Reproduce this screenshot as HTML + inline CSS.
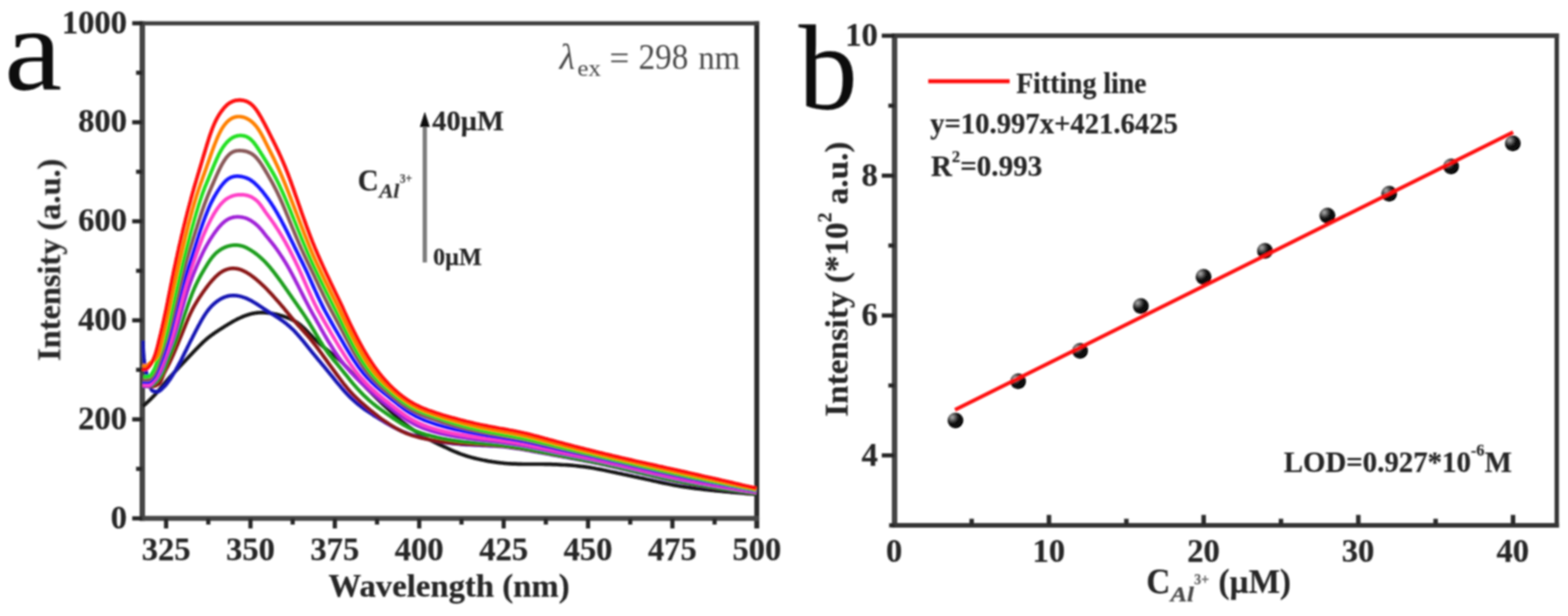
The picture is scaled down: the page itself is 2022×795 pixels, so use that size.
<!DOCTYPE html>
<html lang="en"><head><meta charset="utf-8"><title>Fluorescence spectra and linear fitting</title>
<style>
html,body{margin:0;padding:0;background:#fff;}
body{width:2022px;height:795px;overflow:hidden;font-family:"Liberation Serif",serif;}
svg{display:block;}
text{font-family:"Liberation Serif",serif;fill:#262626;}
.b,.tk{stroke:#262626;stroke-width:0.25px;stroke-linejoin:round;}
.b{font-weight:bold;}
.i{font-style:italic;}
.tk{font-weight:bold;font-size:42px;}
.c{fill:none;stroke-width:4.7;stroke-linejoin:round;stroke-linecap:butt;}
.ax{stroke:#363636;fill:none;}
</style></head><body>
<svg width="2022" height="795" viewBox="0 0 2022 795">
<defs><filter id="bl" x="0" y="0" width="2022" height="795" filterUnits="userSpaceOnUse"><feGaussianBlur stdDeviation="1.3"/></filter><clipPath id="clipA"><rect x="182.5" y="30.05" width="794.4" height="638.95"/></clipPath><radialGradient id="ball" cx="0.3" cy="0.3" r="0.8"><stop offset="0" stop-color="#b0b0b0"/><stop offset="0.24" stop-color="#626262"/><stop offset="0.47" stop-color="#141414"/><stop offset="1" stop-color="#000"/></radialGradient></defs>
<rect width="2022" height="795" fill="#fff"/>
<g filter="url(#bl)">
<g id="panel-a">
<g class="ax">
<line x1="183.5" y1="27.45" x2="183.5" y2="672.2" stroke="#444" stroke-width="7"/>
<line x1="975.9" y1="27.45" x2="975.9" y2="682.0" stroke="#2c2c2c" stroke-width="6.4"/>
<line x1="180.0" y1="30.05" x2="979.1" y2="30.05" stroke="#3c3c3c" stroke-width="5.2"/>
<line x1="180.0" y1="669.0" x2="979.1" y2="669.0" stroke="#464646" stroke-width="6.4"/>
<line x1="170.5" y1="669.0" x2="183.5" y2="669.0" stroke="#262626" stroke-width="5.4"/>
<line x1="175.5" y1="605.1" x2="183.5" y2="605.1" stroke="#262626" stroke-width="5.4"/>
<line x1="170.5" y1="541.2" x2="183.5" y2="541.2" stroke="#262626" stroke-width="5.4"/>
<line x1="175.5" y1="477.3" x2="183.5" y2="477.3" stroke="#262626" stroke-width="5.4"/>
<line x1="170.5" y1="413.4" x2="183.5" y2="413.4" stroke="#262626" stroke-width="5.4"/>
<line x1="175.5" y1="349.5" x2="183.5" y2="349.5" stroke="#262626" stroke-width="5.4"/>
<line x1="170.5" y1="285.6" x2="183.5" y2="285.6" stroke="#262626" stroke-width="5.4"/>
<line x1="175.5" y1="221.7" x2="183.5" y2="221.7" stroke="#262626" stroke-width="5.4"/>
<line x1="170.5" y1="157.8" x2="183.5" y2="157.8" stroke="#262626" stroke-width="5.4"/>
<line x1="175.5" y1="93.9" x2="183.5" y2="93.9" stroke="#262626" stroke-width="5.4"/>
<line x1="170.5" y1="30.0" x2="183.5" y2="30.0" stroke="#262626" stroke-width="5.4"/>
<line x1="214.2" y1="669.0" x2="214.2" y2="682.0" stroke="#262626" stroke-width="5.4"/>
<line x1="268.6" y1="669.0" x2="268.6" y2="677.0" stroke="#262626" stroke-width="5.4"/>
<line x1="323.0" y1="669.0" x2="323.0" y2="682.0" stroke="#262626" stroke-width="5.4"/>
<line x1="377.4" y1="669.0" x2="377.4" y2="677.0" stroke="#262626" stroke-width="5.4"/>
<line x1="431.8" y1="669.0" x2="431.8" y2="682.0" stroke="#262626" stroke-width="5.4"/>
<line x1="486.2" y1="669.0" x2="486.2" y2="677.0" stroke="#262626" stroke-width="5.4"/>
<line x1="540.6" y1="669.0" x2="540.6" y2="682.0" stroke="#262626" stroke-width="5.4"/>
<line x1="595.1" y1="669.0" x2="595.1" y2="677.0" stroke="#262626" stroke-width="5.4"/>
<line x1="649.5" y1="669.0" x2="649.5" y2="682.0" stroke="#262626" stroke-width="5.4"/>
<line x1="703.9" y1="669.0" x2="703.9" y2="677.0" stroke="#262626" stroke-width="5.4"/>
<line x1="758.3" y1="669.0" x2="758.3" y2="682.0" stroke="#262626" stroke-width="5.4"/>
<line x1="812.7" y1="669.0" x2="812.7" y2="677.0" stroke="#262626" stroke-width="5.4"/>
<line x1="867.1" y1="669.0" x2="867.1" y2="682.0" stroke="#262626" stroke-width="5.4"/>
<line x1="921.5" y1="669.0" x2="921.5" y2="677.0" stroke="#262626" stroke-width="5.4"/>
</g>
<g clip-path="url(#clipA)">
<path class="c" stroke="#161616" d="M184.3,524.2 L184.9,523.7 L185.6,523.1 L186.2,522.6 L186.8,522.0 L187.5,521.5 L188.1,520.9 L188.7,520.3 L189.3,519.7 L190.0,519.2 L190.6,518.6 L191.2,518.0 L191.9,517.4 L192.5,516.8 L193.1,516.2 L193.8,515.6 L194.4,515.0 L195.0,514.3 L195.7,513.7 L196.3,513.1 L196.9,512.4 L197.5,511.8 L198.2,511.1 L198.8,510.5 L199.4,509.8 L200.1,509.1 L200.7,508.5 L201.3,507.7 L202.0,507.0 L202.6,506.3 L203.2,505.6 L203.9,504.8 L204.5,504.1 L205.1,503.3 L205.7,502.6 L206.4,501.8 L207.0,501.0 L207.6,500.2 L208.3,499.5 L208.9,498.7 L209.5,497.9 L210.2,497.1 L210.8,496.4 L211.4,495.6 L212.1,494.8 L212.7,494.1 L213.3,493.3 L213.9,492.6 L214.6,491.8 L215.2,491.1 L215.8,490.4 L216.5,489.7 L217.1,489.0 L217.7,488.2 L218.4,487.5 L219.0,486.8 L219.6,486.2 L220.3,485.5 L220.9,484.8 L221.5,484.1 L222.2,483.4 L222.8,482.7 L223.4,482.0 L224.0,481.3 L224.7,480.7 L225.3,480.0 L225.9,479.3 L226.6,478.6 L227.2,477.9 L227.8,477.2 L228.5,476.6 L229.1,475.9 L229.7,475.2 L230.4,474.5 L231.0,473.8 L231.6,473.2 L232.2,472.5 L232.9,471.8 L233.5,471.1 L234.1,470.5 L234.8,469.8 L235.4,469.1 L236.0,468.5 L236.7,467.8 L237.3,467.1 L237.9,466.5 L238.6,465.8 L239.2,465.1 L239.8,464.5 L240.4,463.8 L241.1,463.1 L241.7,462.5 L242.3,461.8 L243.0,461.1 L243.6,460.5 L244.2,459.8 L244.9,459.1 L245.5,458.5 L246.1,457.8 L246.8,457.1 L247.4,456.5 L248.0,455.8 L248.6,455.2 L249.3,454.5 L249.9,453.8 L250.5,453.2 L251.2,452.5 L251.8,451.9 L252.4,451.2 L253.1,450.5 L253.7,449.9 L254.3,449.2 L255.0,448.6 L255.6,447.9 L256.2,447.3 L256.8,446.6 L257.5,446.0 L258.1,445.4 L258.7,444.7 L259.4,444.1 L260.0,443.5 L261.0,442.5 L262.0,441.5 L263.0,440.6 L264.0,439.7 L265.0,438.8 L266.0,437.9 L267.0,437.1 L268.0,436.2 L269.0,435.4 L270.0,434.7 L271.0,433.9 L272.0,433.1 L273.0,432.4 L274.0,431.7 L275.0,431.0 L276.0,430.3 L277.0,429.6 L278.0,428.9 L279.0,428.2 L280.0,427.5 L281.0,426.9 L282.0,426.2 L283.0,425.6 L284.0,424.9 L285.0,424.3 L286.0,423.7 L287.0,423.0 L288.0,422.4 L289.0,421.8 L290.0,421.1 L291.0,420.5 L292.0,419.9 L293.0,419.3 L294.0,418.7 L295.0,418.1 L296.0,417.5 L297.0,416.9 L298.0,416.3 L299.0,415.7 L300.0,415.1 L301.0,414.6 L302.0,414.0 L303.0,413.5 L304.0,413.0 L305.0,412.4 L306.0,411.9 L307.0,411.4 L308.0,411.0 L309.0,410.5 L310.0,410.0 L311.0,409.6 L312.0,409.2 L313.0,408.7 L314.0,408.3 L315.0,407.9 L316.0,407.5 L317.0,407.2 L318.0,406.8 L319.0,406.5 L320.0,406.2 L321.0,405.8 L322.0,405.6 L323.0,405.3 L324.0,405.0 L325.0,404.8 L326.0,404.6 L327.0,404.4 L328.0,404.2 L329.0,404.0 L330.0,403.9 L331.0,403.8 L332.0,403.7 L333.0,403.6 L334.0,403.5 L335.0,403.5 L336.0,403.4 L337.0,403.4 L338.0,403.4 L339.0,403.4 L340.0,403.5 L341.0,403.5 L342.0,403.6 L343.0,403.6 L344.0,403.7 L345.0,403.8 L346.0,403.9 L347.0,404.0 L348.0,404.2 L349.0,404.3 L350.0,404.5 L351.0,404.6 L352.0,404.8 L353.0,405.0 L354.0,405.2 L355.0,405.4 L356.0,405.6 L357.0,405.8 L358.0,406.1 L359.0,406.4 L360.0,406.6 L361.0,406.9 L362.0,407.2 L363.0,407.5 L364.0,407.8 L365.0,408.1 L366.0,408.4 L367.0,408.7 L368.0,409.1 L369.0,409.4 L370.0,409.8 L371.0,410.2 L372.0,410.6 L373.0,411.0 L374.0,411.4 L375.0,411.8 L376.0,412.3 L377.0,412.8 L378.0,413.3 L379.0,413.8 L380.0,414.3 L381.0,414.9 L382.0,415.5 L383.0,416.2 L384.0,416.8 L385.0,417.6 L386.0,418.3 L387.0,419.1 L388.0,419.9 L389.0,420.8 L390.0,421.7 L391.0,422.6 L392.0,423.5 L393.0,424.5 L394.0,425.5 L395.0,426.5 L396.0,427.5 L397.0,428.5 L398.0,429.6 L399.0,430.6 L400.0,431.6 L401.0,432.7 L402.0,433.7 L403.0,434.7 L404.0,435.8 L405.0,436.8 L406.0,437.7 L407.0,438.7 L408.0,439.7 L409.0,440.6 L410.0,441.6 L411.0,442.5 L412.0,443.4 L413.0,444.3 L414.0,445.1 L415.0,446.0 L416.0,446.8 L417.0,447.7 L418.0,448.5 L419.0,449.3 L420.0,450.1 L423.5,452.8 L427.0,455.6 L430.5,458.4 L434.0,461.4 L437.5,464.4 L441.0,467.7 L444.4,471.1 L447.9,474.7 L451.4,478.3 L454.9,482.1 L458.4,485.9 L461.9,489.6 L465.4,493.3 L468.9,496.9 L472.4,500.5 L475.9,504.1 L479.4,507.6 L482.9,511.1 L486.4,514.5 L489.8,517.9 L493.3,521.3 L496.8,524.6 L500.3,527.8 L503.8,531.0 L507.3,534.2 L510.8,537.3 L514.3,540.3 L517.8,543.2 L521.3,546.0 L524.8,548.8 L528.3,551.5 L531.8,554.0 L535.3,556.5 L538.7,558.8 L542.2,561.1 L545.7,563.1 L549.2,565.1 L552.7,567.0 L556.2,568.7 L559.7,570.4 L563.2,572.1 L566.7,573.8 L570.2,575.4 L573.7,577.0 L577.2,578.7 L580.7,580.3 L584.1,581.8 L587.6,583.3 L591.1,584.7 L594.6,586.1 L598.1,587.3 L601.6,588.4 L605.1,589.5 L608.6,590.5 L612.1,591.4 L615.6,592.2 L619.1,593.0 L622.6,593.8 L626.1,594.4 L629.5,595.1 L633.0,595.6 L636.5,596.2 L640.0,596.7 L643.5,597.1 L647.0,597.5 L650.5,597.9 L654.0,598.2 L657.5,598.4 L661.0,598.6 L664.5,598.7 L668.0,598.8 L671.5,598.9 L674.9,599.0 L678.4,599.0 L681.9,599.0 L685.4,599.0 L688.9,599.0 L692.4,599.0 L695.9,599.0 L699.4,599.0 L702.9,599.1 L706.4,599.1 L709.9,599.2 L713.4,599.3 L716.9,599.4 L720.4,599.6 L723.8,599.8 L727.3,600.0 L730.8,600.2 L734.3,600.4 L737.8,600.7 L741.3,601.0 L744.8,601.4 L748.3,601.8 L751.8,602.2 L755.3,602.7 L758.8,603.2 L762.3,603.7 L765.8,604.3 L769.2,605.0 L772.7,605.6 L776.2,606.3 L779.7,607.0 L783.2,607.7 L786.7,608.5 L790.2,609.2 L793.7,609.9 L797.2,610.7 L800.7,611.4 L804.2,612.2 L807.7,612.9 L811.2,613.7 L814.6,614.4 L818.1,615.2 L821.6,615.9 L825.1,616.7 L828.6,617.4 L832.1,618.2 L835.6,619.0 L839.1,619.8 L842.6,620.6 L846.1,621.3 L849.6,622.1 L853.1,622.9 L856.6,623.6 L860.0,624.3 L863.5,625.0 L867.0,625.7 L870.5,626.4 L874.0,627.0 L877.5,627.6 L881.0,628.1 L884.5,628.7 L888.0,629.2 L891.5,629.7 L895.0,630.1 L898.5,630.6 L902.0,631.0 L905.5,631.4 L908.9,631.8 L912.4,632.2 L915.9,632.6 L919.4,633.0 L922.9,633.3 L926.4,633.7 L929.9,634.0 L933.4,634.3 L936.9,634.7 L940.4,635.0 L943.9,635.3 L947.4,635.6 L950.9,635.9 L954.3,636.2 L957.8,636.5 L961.3,636.8 L964.8,637.1 L968.3,637.4 L971.8,637.7 L975.3,638.0"/>
<path class="c" stroke="#1414b4" d="M184.3,439.6 L184.8,452.0 L185.6,462.0 L186.8,472.0 L188.2,479.0 L190.0,485.0 L190.6,487.4 L191.2,489.8 L191.8,492.1 L192.3,494.3 L192.9,496.4 L193.5,498.3 L194.1,499.9 L194.7,501.4 L195.2,502.7 L195.8,503.6 L196.4,504.3 L197.0,504.6 L197.6,504.8 L198.2,504.9 L198.8,505.0 L199.3,505.1 L199.9,505.2 L200.5,505.3 L201.1,505.4 L201.7,505.5 L202.2,505.5 L202.8,505.5 L203.4,505.5 L204.0,505.4 L204.6,505.1 L205.2,504.8 L205.8,504.5 L206.3,504.1 L206.9,503.6 L207.5,503.1 L208.1,502.6 L208.7,502.0 L209.2,501.5 L209.8,500.9 L210.4,500.3 L211.0,499.8 L211.6,499.3 L212.2,498.7 L212.8,498.0 L213.3,497.4 L213.9,496.7 L214.5,496.0 L215.1,495.2 L215.7,494.5 L216.2,493.7 L216.8,492.9 L217.4,492.1 L218.0,491.3 L218.6,490.4 L219.2,489.6 L219.8,488.7 L220.3,487.9 L220.9,487.0 L221.5,486.0 L222.1,485.1 L222.7,484.2 L223.2,483.2 L223.8,482.3 L224.4,481.3 L225.0,480.4 L225.6,479.4 L226.2,478.4 L226.8,477.3 L227.3,476.3 L227.9,475.3 L228.5,474.2 L229.1,473.2 L229.7,472.1 L230.2,471.0 L230.8,469.9 L231.4,468.8 L232.0,467.7 L232.6,466.6 L233.2,465.4 L233.8,464.3 L234.3,463.1 L234.9,462.0 L235.5,460.8 L236.1,459.6 L236.7,458.5 L237.2,457.3 L237.8,456.1 L238.4,454.9 L239.0,453.7 L239.6,452.5 L240.2,451.4 L240.8,450.2 L241.3,449.0 L241.9,447.8 L242.5,446.7 L243.1,445.5 L243.7,444.3 L244.2,443.2 L244.8,442.0 L245.4,440.8 L246.0,439.7 L246.6,438.5 L247.2,437.4 L247.8,436.2 L248.3,435.1 L248.9,434.0 L249.5,432.8 L250.1,431.7 L250.7,430.5 L251.2,429.4 L251.8,428.3 L252.4,427.2 L253.0,426.0 L253.6,424.9 L254.2,423.8 L254.8,422.7 L255.3,421.6 L255.9,420.5 L256.5,419.4 L257.1,418.4 L257.7,417.3 L258.2,416.2 L258.8,415.2 L259.4,414.2 L260.0,413.1 L261.0,411.4 L262.0,409.7 L263.0,408.1 L264.0,406.5 L265.0,405.0 L266.0,403.5 L267.0,402.1 L268.0,400.8 L269.0,399.5 L270.0,398.3 L271.0,397.1 L272.0,396.0 L273.0,394.9 L274.0,393.9 L275.0,393.0 L276.0,392.1 L277.0,391.2 L278.0,390.4 L279.0,389.6 L280.0,388.8 L281.0,388.1 L282.0,387.4 L283.0,386.8 L284.0,386.2 L285.0,385.6 L286.0,385.1 L287.0,384.6 L288.0,384.1 L289.0,383.7 L290.0,383.3 L291.0,383.0 L292.0,382.6 L293.0,382.4 L294.0,382.1 L295.0,381.9 L296.0,381.7 L297.0,381.6 L298.0,381.5 L299.0,381.4 L300.0,381.3 L301.0,381.3 L302.0,381.3 L303.0,381.4 L304.0,381.5 L305.0,381.6 L306.0,381.7 L307.0,381.9 L308.0,382.0 L309.0,382.3 L310.0,382.5 L311.0,382.8 L312.0,383.0 L313.0,383.4 L314.0,383.7 L315.0,384.0 L316.0,384.4 L317.0,384.8 L318.0,385.2 L319.0,385.7 L320.0,386.2 L321.0,386.6 L322.0,387.1 L323.0,387.7 L324.0,388.2 L325.0,388.7 L326.0,389.3 L327.0,389.9 L328.0,390.5 L329.0,391.1 L330.0,391.7 L331.0,392.3 L332.0,393.0 L333.0,393.6 L334.0,394.3 L335.0,394.9 L336.0,395.6 L337.0,396.3 L338.0,396.9 L339.0,397.6 L340.0,398.3 L341.0,398.9 L342.0,399.6 L343.0,400.2 L344.0,400.9 L345.0,401.5 L346.0,402.2 L347.0,402.8 L348.0,403.4 L349.0,404.1 L350.0,404.7 L351.0,405.3 L352.0,406.0 L353.0,406.6 L354.0,407.2 L355.0,407.9 L356.0,408.5 L357.0,409.1 L358.0,409.8 L359.0,410.4 L360.0,411.1 L361.0,411.8 L362.0,412.5 L363.0,413.2 L364.0,413.9 L365.0,414.6 L366.0,415.3 L367.0,416.1 L368.0,416.9 L369.0,417.6 L370.0,418.5 L371.0,419.3 L372.0,420.1 L373.0,421.0 L374.0,421.9 L375.0,422.8 L376.0,423.8 L377.0,424.7 L378.0,425.7 L379.0,426.7 L380.0,427.7 L381.0,428.8 L382.0,429.9 L383.0,431.0 L384.0,432.1 L385.0,433.2 L386.0,434.4 L387.0,435.5 L388.0,436.7 L389.0,437.9 L390.0,439.1 L391.0,440.3 L392.0,441.5 L393.0,442.8 L394.0,444.0 L395.0,445.2 L396.0,446.5 L397.0,447.7 L398.0,449.0 L399.0,450.2 L400.0,451.5 L401.0,452.7 L402.0,454.0 L403.0,455.2 L404.0,456.4 L405.0,457.6 L406.0,458.9 L407.0,460.1 L408.0,461.3 L409.0,462.5 L410.0,463.7 L411.0,464.9 L412.0,466.1 L413.0,467.3 L414.0,468.5 L415.0,469.7 L416.0,470.9 L417.0,472.1 L418.0,473.3 L419.0,474.5 L420.0,475.7 L423.5,480.0 L427.0,484.3 L430.5,488.6 L434.0,492.9 L437.5,497.1 L441.0,501.2 L444.4,505.1 L447.9,508.9 L451.4,512.5 L454.9,515.8 L458.4,518.9 L461.9,521.9 L465.4,524.7 L468.9,527.3 L472.4,529.8 L475.9,532.1 L479.4,534.4 L482.9,536.7 L486.4,538.8 L489.8,541.0 L493.3,543.1 L496.8,545.2 L500.3,547.2 L503.8,549.2 L507.3,551.2 L510.8,553.0 L514.3,554.7 L517.8,556.3 L521.3,557.8 L524.8,559.1 L528.3,560.4 L531.8,561.5 L535.3,562.6 L538.7,563.6 L542.2,564.5 L545.7,565.4 L549.2,566.2 L552.7,567.0 L556.2,567.8 L559.7,568.5 L563.2,569.1 L566.7,569.8 L570.2,570.4 L573.7,570.9 L577.2,571.4 L580.7,571.9 L584.1,572.3 L587.6,572.7 L591.1,573.0 L594.6,573.3 L598.1,573.6 L601.6,573.8 L605.1,574.0 L608.6,574.2 L612.1,574.3 L615.6,574.5 L619.1,574.6 L622.6,574.8 L626.1,574.9 L629.5,575.1 L633.0,575.3 L636.5,575.4 L640.0,575.7 L643.5,575.9 L647.0,576.2 L650.5,576.5 L654.0,576.9 L657.5,577.3 L661.0,577.8 L664.5,578.3 L668.0,578.8 L671.5,579.4 L674.9,580.0 L678.4,580.6 L681.9,581.3 L685.4,581.9 L688.9,582.6 L692.4,583.2 L695.9,583.9 L699.4,584.5 L702.9,585.2 L706.4,585.8 L709.9,586.5 L713.4,587.1 L716.9,587.7 L720.4,588.4 L723.8,589.0 L727.3,589.7 L730.8,590.3 L734.3,590.9 L737.8,591.6 L741.3,592.2 L744.8,592.9 L748.3,593.5 L751.8,594.2 L755.3,594.9 L758.8,595.5 L762.3,596.2 L765.8,596.9 L769.2,597.6 L772.7,598.3 L776.2,599.1 L779.7,599.8 L783.2,600.6 L786.7,601.4 L790.2,602.2 L793.7,603.0 L797.2,603.8 L800.7,604.6 L804.2,605.4 L807.7,606.3 L811.2,607.1 L814.6,607.9 L818.1,608.8 L821.6,609.6 L825.1,610.5 L828.6,611.3 L832.1,612.2 L835.6,613.0 L839.1,613.8 L842.6,614.7 L846.1,615.5 L849.6,616.3 L853.1,617.1 L856.6,617.9 L860.0,618.6 L863.5,619.4 L867.0,620.2 L870.5,620.9 L874.0,621.6 L877.5,622.3 L881.0,623.0 L884.5,623.6 L888.0,624.3 L891.5,624.9 L895.0,625.5 L898.5,626.1 L902.0,626.7 L905.5,627.3 L908.9,627.8 L912.4,628.4 L915.9,628.9 L919.4,629.5 L922.9,630.0 L926.4,630.5 L929.9,631.0 L933.4,631.5 L936.9,632.0 L940.4,632.4 L943.9,632.9 L947.4,633.4 L950.9,633.8 L954.3,634.3 L957.8,634.8 L961.3,635.2 L964.8,635.7 L968.3,636.1 L971.8,636.6 L975.3,637.0"/>
<path class="c" stroke="#8a1818" d="M184.0,497.0 L184.6,497.3 L185.3,497.5 L185.9,497.8 L186.5,498.0 L187.2,498.2 L187.8,498.3 L188.4,498.5 L189.1,498.6 L189.7,498.7 L190.3,498.8 L191.0,498.8 L191.6,498.9 L192.2,498.9 L192.9,499.0 L193.5,499.0 L194.1,499.0 L194.8,499.0 L195.4,499.0 L196.0,499.0 L196.7,498.9 L197.3,498.8 L197.9,498.6 L198.6,498.4 L199.2,498.2 L199.8,498.0 L200.5,497.8 L201.1,497.5 L201.7,497.2 L202.4,496.9 L203.0,496.5 L203.6,496.1 L204.3,495.8 L204.9,495.4 L205.5,494.7 L206.2,493.9 L206.8,492.8 L207.4,491.6 L208.1,490.2 L208.7,488.8 L209.3,487.3 L210.0,485.7 L210.6,484.2 L211.2,482.7 L211.9,481.3 L212.5,480.0 L213.1,478.8 L213.8,477.5 L214.4,476.3 L215.0,475.1 L215.7,473.9 L216.3,472.6 L216.9,471.4 L217.6,470.1 L218.2,468.9 L218.8,467.6 L219.5,466.3 L220.1,465.0 L220.7,463.6 L221.4,462.3 L222.0,460.9 L222.6,459.5 L223.3,458.0 L223.9,456.6 L224.5,455.1 L225.2,453.7 L225.8,452.2 L226.4,450.7 L227.1,449.2 L227.7,447.7 L228.3,446.2 L229.0,444.7 L229.6,443.2 L230.2,441.6 L230.9,440.1 L231.5,438.5 L232.1,437.0 L232.8,435.4 L233.4,433.9 L234.0,432.3 L234.7,430.7 L235.3,429.1 L235.9,427.5 L236.6,426.0 L237.2,424.4 L237.8,422.8 L238.5,421.2 L239.1,419.6 L239.7,418.1 L240.4,416.5 L241.0,415.0 L241.6,413.5 L242.3,412.0 L242.9,410.5 L243.5,409.0 L244.2,407.6 L244.8,406.2 L245.4,404.8 L246.1,403.5 L246.7,402.2 L247.3,400.9 L248.0,399.6 L248.6,398.4 L249.2,397.2 L249.9,396.1 L250.5,394.9 L251.1,393.8 L251.8,392.7 L252.4,391.7 L253.0,390.6 L253.7,389.6 L254.3,388.5 L254.9,387.5 L255.6,386.5 L256.2,385.5 L256.8,384.5 L257.5,383.6 L258.1,382.6 L258.7,381.6 L259.4,380.7 L260.0,379.7 L261.0,378.3 L262.0,376.8 L263.0,375.4 L264.0,374.0 L265.0,372.7 L266.0,371.3 L267.0,370.0 L268.0,368.7 L269.0,367.4 L270.0,366.1 L271.0,364.9 L272.0,363.7 L273.0,362.6 L274.0,361.4 L275.0,360.3 L276.0,359.3 L277.0,358.2 L278.0,357.2 L279.0,356.3 L280.0,355.4 L281.0,354.5 L282.0,353.6 L283.0,352.8 L284.0,352.1 L285.0,351.4 L286.0,350.8 L287.0,350.2 L288.0,349.6 L289.0,349.1 L290.0,348.6 L291.0,348.2 L292.0,347.9 L293.0,347.5 L294.0,347.3 L295.0,347.0 L296.0,346.8 L297.0,346.6 L298.0,346.5 L299.0,346.4 L300.0,346.4 L301.0,346.4 L302.0,346.4 L303.0,346.5 L304.0,346.6 L305.0,346.7 L306.0,346.9 L307.0,347.1 L308.0,347.3 L309.0,347.6 L310.0,348.0 L311.0,348.3 L312.0,348.7 L313.0,349.1 L314.0,349.6 L315.0,350.1 L316.0,350.6 L317.0,351.1 L318.0,351.7 L319.0,352.3 L320.0,352.9 L321.0,353.5 L322.0,354.2 L323.0,354.9 L324.0,355.6 L325.0,356.3 L326.0,357.1 L327.0,357.8 L328.0,358.6 L329.0,359.4 L330.0,360.2 L331.0,361.1 L332.0,361.9 L333.0,362.8 L334.0,363.7 L335.0,364.6 L336.0,365.5 L337.0,366.4 L338.0,367.3 L339.0,368.3 L340.0,369.2 L341.0,370.2 L342.0,371.2 L343.0,372.2 L344.0,373.2 L345.0,374.2 L346.0,375.3 L347.0,376.3 L348.0,377.4 L349.0,378.5 L350.0,379.5 L351.0,380.6 L352.0,381.7 L353.0,382.9 L354.0,384.0 L355.0,385.1 L356.0,386.2 L357.0,387.4 L358.0,388.5 L359.0,389.6 L360.0,390.8 L361.0,391.9 L362.0,393.1 L363.0,394.3 L364.0,395.4 L365.0,396.6 L366.0,397.8 L367.0,399.0 L368.0,400.2 L369.0,401.4 L370.0,402.6 L371.0,403.9 L372.0,405.1 L373.0,406.3 L374.0,407.5 L375.0,408.7 L376.0,409.9 L377.0,411.1 L378.0,412.3 L379.0,413.5 L380.0,414.6 L381.0,415.8 L382.0,416.9 L383.0,418.1 L384.0,419.2 L385.0,420.3 L386.0,421.4 L387.0,422.5 L388.0,423.6 L389.0,424.7 L390.0,425.9 L391.0,427.0 L392.0,428.1 L393.0,429.2 L394.0,430.3 L395.0,431.5 L396.0,432.6 L397.0,433.8 L398.0,434.9 L399.0,436.1 L400.0,437.3 L401.0,438.5 L402.0,439.7 L403.0,441.0 L404.0,442.2 L405.0,443.5 L406.0,444.8 L407.0,446.1 L408.0,447.4 L409.0,448.7 L410.0,450.0 L411.0,451.4 L412.0,452.7 L413.0,454.1 L414.0,455.4 L415.0,456.8 L416.0,458.2 L417.0,459.6 L418.0,461.0 L419.0,462.3 L420.0,463.7 L423.5,468.6 L427.0,473.4 L430.5,478.2 L434.0,483.0 L437.5,487.7 L441.0,492.3 L444.4,496.8 L447.9,501.1 L451.4,505.1 L454.9,508.9 L458.4,512.4 L461.9,515.8 L465.4,519.0 L468.9,522.1 L472.4,525.1 L475.9,528.1 L479.4,530.9 L482.9,533.7 L486.4,536.4 L489.8,539.1 L493.3,541.6 L496.8,544.0 L500.3,546.3 L503.8,548.6 L507.3,550.7 L510.8,552.7 L514.3,554.6 L517.8,556.3 L521.3,558.0 L524.8,559.5 L528.3,560.8 L531.8,562.0 L535.3,563.1 L538.7,564.0 L542.2,564.9 L545.7,565.7 L549.2,566.4 L552.7,567.1 L556.2,567.8 L559.7,568.4 L563.2,569.0 L566.7,569.6 L570.2,570.1 L573.7,570.6 L577.2,571.1 L580.7,571.5 L584.1,571.9 L587.6,572.2 L591.1,572.5 L594.6,572.8 L598.1,573.0 L601.6,573.2 L605.1,573.4 L608.6,573.6 L612.1,573.7 L615.6,573.8 L619.1,574.0 L622.6,574.1 L626.1,574.3 L629.5,574.5 L633.0,574.6 L636.5,574.9 L640.0,575.1 L643.5,575.4 L647.0,575.7 L650.5,576.0 L654.0,576.4 L657.5,576.8 L661.0,577.3 L664.5,577.8 L668.0,578.3 L671.5,578.9 L674.9,579.5 L678.4,580.1 L681.9,580.7 L685.4,581.3 L688.9,582.0 L692.4,582.7 L695.9,583.3 L699.4,584.0 L702.9,584.7 L706.4,585.3 L709.9,586.0 L713.4,586.6 L716.9,587.3 L720.4,587.9 L723.8,588.6 L727.3,589.2 L730.8,589.8 L734.3,590.5 L737.8,591.1 L741.3,591.8 L744.8,592.4 L748.3,593.1 L751.8,593.7 L755.3,594.4 L758.8,595.1 L762.3,595.7 L765.8,596.4 L769.2,597.1 L772.7,597.9 L776.2,598.6 L779.7,599.3 L783.2,600.1 L786.7,600.9 L790.2,601.6 L793.7,602.4 L797.2,603.3 L800.7,604.1 L804.2,604.9 L807.7,605.7 L811.2,606.6 L814.6,607.4 L818.1,608.2 L821.6,609.1 L825.1,609.9 L828.6,610.8 L832.1,611.6 L835.6,612.5 L839.1,613.3 L842.6,614.1 L846.1,614.9 L849.6,615.8 L853.1,616.6 L856.6,617.3 L860.0,618.1 L863.5,618.9 L867.0,619.6 L870.5,620.4 L874.0,621.1 L877.5,621.8 L881.0,622.5 L884.5,623.2 L888.0,623.8 L891.5,624.5 L895.0,625.1 L898.5,625.7 L902.0,626.3 L905.5,626.9 L908.9,627.5 L912.4,628.0 L915.9,628.6 L919.4,629.1 L922.9,629.7 L926.4,630.2 L929.9,630.7 L933.4,631.2 L936.9,631.7 L940.4,632.2 L943.9,632.7 L947.4,633.2 L950.9,633.7 L954.3,634.2 L957.8,634.7 L961.3,635.1 L964.8,635.6 L968.3,636.1 L971.8,636.5 L975.3,637.0"/>
<path class="c" stroke="#1c9e1c" d="M184.0,497.5 L184.6,497.7 L185.3,497.9 L185.9,498.1 L186.5,498.2 L187.2,498.3 L187.8,498.4 L188.4,498.4 L189.1,498.5 L189.7,498.5 L190.3,498.5 L191.0,498.5 L191.6,498.5 L192.2,498.5 L192.9,498.4 L193.5,498.3 L194.1,498.0 L194.8,497.7 L195.4,497.4 L196.0,497.0 L196.7,496.6 L197.3,496.1 L197.9,495.6 L198.6,495.1 L199.2,494.6 L199.8,494.1 L200.5,493.6 L201.1,493.1 L201.7,492.4 L202.4,491.8 L203.0,491.1 L203.6,490.3 L204.3,489.5 L204.9,488.6 L205.5,487.8 L206.2,486.8 L206.8,485.9 L207.4,484.9 L208.1,483.9 L208.7,482.8 L209.3,481.6 L210.0,480.3 L210.6,479.0 L211.2,477.5 L211.9,476.0 L212.5,474.5 L213.1,472.9 L213.8,471.2 L214.4,469.6 L215.0,467.9 L215.7,466.3 L216.3,464.7 L216.9,463.1 L217.6,461.6 L218.2,460.0 L218.8,458.6 L219.5,457.1 L220.1,455.6 L220.7,454.1 L221.4,452.6 L222.0,451.1 L222.6,449.6 L223.3,448.0 L223.9,446.4 L224.5,444.8 L225.2,443.2 L225.8,441.5 L226.4,439.8 L227.1,438.1 L227.7,436.4 L228.3,434.7 L229.0,432.9 L229.6,431.2 L230.2,429.4 L230.9,427.6 L231.5,425.8 L232.1,423.9 L232.8,422.0 L233.4,420.2 L234.0,418.3 L234.7,416.4 L235.3,414.4 L235.9,412.5 L236.6,410.6 L237.2,408.7 L237.8,406.8 L238.5,404.9 L239.1,403.0 L239.7,401.1 L240.4,399.3 L241.0,397.4 L241.6,395.6 L242.3,393.8 L242.9,392.0 L243.5,390.3 L244.2,388.5 L244.8,386.8 L245.4,385.1 L246.1,383.4 L246.7,381.8 L247.3,380.1 L248.0,378.5 L248.6,377.0 L249.2,375.4 L249.9,373.9 L250.5,372.5 L251.1,371.0 L251.8,369.6 L252.4,368.2 L253.0,366.8 L253.7,365.5 L254.3,364.2 L254.9,362.9 L255.6,361.7 L256.2,360.5 L256.8,359.2 L257.5,358.1 L258.1,356.9 L258.7,355.7 L259.4,354.6 L260.0,353.5 L261.0,351.7 L262.0,350.0 L263.0,348.3 L264.0,346.6 L265.0,344.9 L266.0,343.3 L267.0,341.7 L268.0,340.1 L269.0,338.5 L270.0,337.0 L271.0,335.6 L272.0,334.2 L273.0,332.9 L274.0,331.6 L275.0,330.4 L276.0,329.3 L277.0,328.2 L278.0,327.2 L279.0,326.3 L280.0,325.4 L281.0,324.6 L282.0,323.9 L283.0,323.1 L284.0,322.5 L285.0,321.8 L286.0,321.2 L287.0,320.7 L288.0,320.1 L289.0,319.7 L290.0,319.2 L291.0,318.8 L292.0,318.4 L293.0,318.1 L294.0,317.8 L295.0,317.5 L296.0,317.2 L297.0,317.0 L298.0,316.8 L299.0,316.7 L300.0,316.5 L301.0,316.4 L302.0,316.4 L303.0,316.3 L304.0,316.3 L305.0,316.4 L306.0,316.4 L307.0,316.5 L308.0,316.7 L309.0,316.8 L310.0,317.0 L311.0,317.2 L312.0,317.5 L313.0,317.8 L314.0,318.1 L315.0,318.5 L316.0,318.9 L317.0,319.4 L318.0,319.8 L319.0,320.4 L320.0,320.9 L321.0,321.5 L322.0,322.0 L323.0,322.7 L324.0,323.3 L325.0,323.9 L326.0,324.6 L327.0,325.3 L328.0,326.0 L329.0,326.7 L330.0,327.5 L331.0,328.2 L332.0,329.0 L333.0,329.8 L334.0,330.7 L335.0,331.5 L336.0,332.4 L337.0,333.3 L338.0,334.3 L339.0,335.2 L340.0,336.2 L341.0,337.2 L342.0,338.2 L343.0,339.2 L344.0,340.3 L345.0,341.4 L346.0,342.5 L347.0,343.7 L348.0,344.8 L349.0,346.0 L350.0,347.3 L351.0,348.5 L352.0,349.8 L353.0,351.1 L354.0,352.3 L355.0,353.7 L356.0,355.0 L357.0,356.3 L358.0,357.7 L359.0,359.0 L360.0,360.4 L361.0,361.8 L362.0,363.1 L363.0,364.5 L364.0,365.9 L365.0,367.4 L366.0,368.8 L367.0,370.2 L368.0,371.6 L369.0,373.1 L370.0,374.5 L371.0,375.9 L372.0,377.4 L373.0,378.8 L374.0,380.2 L375.0,381.7 L376.0,383.1 L377.0,384.6 L378.0,386.0 L379.0,387.4 L380.0,388.9 L381.0,390.3 L382.0,391.7 L383.0,393.2 L384.0,394.6 L385.0,396.1 L386.0,397.5 L387.0,398.9 L388.0,400.4 L389.0,401.9 L390.0,403.3 L391.0,404.8 L392.0,406.3 L393.0,407.8 L394.0,409.3 L395.0,410.8 L396.0,412.4 L397.0,413.9 L398.0,415.5 L399.0,417.1 L400.0,418.7 L401.0,420.4 L402.0,422.0 L403.0,423.7 L404.0,425.3 L405.0,427.0 L406.0,428.7 L407.0,430.4 L408.0,432.1 L409.0,433.8 L410.0,435.4 L411.0,437.1 L412.0,438.8 L413.0,440.4 L414.0,442.0 L415.0,443.6 L416.0,445.2 L417.0,446.7 L418.0,448.2 L419.0,449.7 L420.0,451.2 L423.5,456.0 L427.0,460.6 L430.5,464.9 L434.0,469.1 L437.5,473.3 L441.0,477.5 L444.4,481.8 L447.9,486.1 L451.4,490.4 L454.9,494.7 L458.4,498.8 L461.9,502.7 L465.4,506.4 L468.9,510.0 L472.4,513.3 L475.9,516.5 L479.4,519.5 L482.9,522.3 L486.4,525.1 L489.8,527.7 L493.3,530.2 L496.8,532.7 L500.3,535.2 L503.8,537.6 L507.3,540.0 L510.8,542.3 L514.3,544.6 L517.8,546.8 L521.3,548.9 L524.8,550.8 L528.3,552.6 L531.8,554.3 L535.3,555.8 L538.7,557.2 L542.2,558.4 L545.7,559.6 L549.2,560.7 L552.7,561.6 L556.2,562.6 L559.7,563.4 L563.2,564.3 L566.7,565.0 L570.2,565.8 L573.7,566.4 L577.2,567.1 L580.7,567.6 L584.1,568.2 L587.6,568.7 L591.1,569.1 L594.6,569.6 L598.1,570.0 L601.6,570.3 L605.1,570.7 L608.6,571.0 L612.1,571.3 L615.6,571.6 L619.1,571.9 L622.6,572.2 L626.1,572.5 L629.5,572.8 L633.0,573.1 L636.5,573.4 L640.0,573.8 L643.5,574.1 L647.0,574.5 L650.5,574.9 L654.0,575.3 L657.5,575.8 L661.0,576.2 L664.5,576.8 L668.0,577.3 L671.5,577.9 L674.9,578.4 L678.4,579.1 L681.9,579.7 L685.4,580.3 L688.9,581.0 L692.4,581.7 L695.9,582.4 L699.4,583.1 L702.9,583.8 L706.4,584.4 L709.9,585.1 L713.4,585.8 L716.9,586.5 L720.4,587.1 L723.8,587.8 L727.3,588.4 L730.8,589.1 L734.3,589.8 L737.8,590.4 L741.3,591.1 L744.8,591.7 L748.3,592.4 L751.8,593.1 L755.3,593.7 L758.8,594.4 L762.3,595.1 L765.8,595.8 L769.2,596.5 L772.7,597.2 L776.2,597.9 L779.7,598.7 L783.2,599.4 L786.7,600.2 L790.2,601.0 L793.7,601.8 L797.2,602.6 L800.7,603.5 L804.2,604.3 L807.7,605.1 L811.2,606.0 L814.6,606.8 L818.1,607.7 L821.6,608.5 L825.1,609.4 L828.6,610.2 L832.1,611.0 L835.6,611.9 L839.1,612.7 L842.6,613.5 L846.1,614.3 L849.6,615.1 L853.1,615.9 L856.6,616.7 L860.0,617.5 L863.5,618.2 L867.0,619.0 L870.5,619.7 L874.0,620.4 L877.5,621.1 L881.0,621.8 L884.5,622.4 L888.0,623.1 L891.5,623.7 L895.0,624.4 L898.5,625.0 L902.0,625.6 L905.5,626.2 L908.9,626.8 L912.4,627.4 L915.9,627.9 L919.4,628.5 L922.9,629.0 L926.4,629.6 L929.9,630.1 L933.4,630.6 L936.9,631.2 L940.4,631.7 L943.9,632.2 L947.4,632.7 L950.9,633.2 L954.3,633.7 L957.8,634.2 L961.3,634.7 L964.8,635.2 L968.3,635.7 L971.8,636.2 L975.3,636.7"/>
<path class="c" stroke="#a020d8" d="M184.0,498.0 L184.6,498.1 L185.3,498.2 L185.9,498.3 L186.5,498.4 L187.2,498.4 L187.8,498.5 L188.4,498.5 L189.1,498.5 L189.7,498.5 L190.3,498.5 L191.0,498.5 L191.6,498.4 L192.2,498.3 L192.9,498.0 L193.5,497.6 L194.1,497.1 L194.8,496.5 L195.4,495.9 L196.0,495.3 L196.7,494.6 L197.3,493.9 L197.9,493.2 L198.6,492.5 L199.2,491.8 L199.8,491.1 L200.5,490.3 L201.1,489.5 L201.7,488.7 L202.4,487.8 L203.0,486.8 L203.6,485.9 L204.3,484.9 L204.9,483.8 L205.5,482.7 L206.2,481.6 L206.8,480.4 L207.4,479.1 L208.1,477.8 L208.7,476.3 L209.3,474.7 L210.0,473.1 L210.6,471.4 L211.2,469.6 L211.9,467.9 L212.5,466.1 L213.1,464.3 L213.8,462.5 L214.4,460.8 L215.0,459.2 L215.7,457.5 L216.3,455.9 L216.9,454.3 L217.6,452.8 L218.2,451.1 L218.8,449.5 L219.5,447.9 L220.1,446.2 L220.7,444.5 L221.4,442.8 L222.0,441.0 L222.6,439.2 L223.3,437.3 L223.9,435.4 L224.5,433.5 L225.2,431.5 L225.8,429.5 L226.4,427.5 L227.1,425.5 L227.7,423.4 L228.3,421.4 L229.0,419.3 L229.6,417.2 L230.2,415.1 L230.9,412.9 L231.5,410.7 L232.1,408.6 L232.8,406.4 L233.4,404.2 L234.0,401.9 L234.7,399.7 L235.3,397.5 L235.9,395.2 L236.6,393.0 L237.2,390.7 L237.8,388.5 L238.5,386.3 L239.1,384.1 L239.7,382.0 L240.4,379.8 L241.0,377.7 L241.6,375.7 L242.3,373.7 L242.9,371.7 L243.5,369.8 L244.2,368.0 L244.8,366.1 L245.4,364.4 L246.1,362.6 L246.7,360.9 L247.3,359.2 L248.0,357.6 L248.6,355.9 L249.2,354.3 L249.9,352.8 L250.5,351.2 L251.1,349.7 L251.8,348.1 L252.4,346.6 L253.0,345.1 L253.7,343.6 L254.3,342.2 L254.9,340.7 L255.6,339.2 L256.2,337.8 L256.8,336.4 L257.5,334.9 L258.1,333.5 L258.7,332.1 L259.4,330.8 L260.0,329.4 L261.0,327.3 L262.0,325.3 L263.0,323.3 L264.0,321.3 L265.0,319.5 L266.0,317.6 L267.0,315.9 L268.0,314.1 L269.0,312.4 L270.0,310.7 L271.0,309.1 L272.0,307.5 L273.0,306.0 L274.0,304.4 L275.0,303.0 L276.0,301.5 L277.0,300.1 L278.0,298.7 L279.0,297.4 L280.0,296.1 L281.0,294.8 L282.0,293.6 L283.0,292.4 L284.0,291.3 L285.0,290.2 L286.0,289.2 L287.0,288.2 L288.0,287.3 L289.0,286.4 L290.0,285.6 L291.0,284.9 L292.0,284.2 L293.0,283.5 L294.0,283.0 L295.0,282.4 L296.0,282.0 L297.0,281.6 L298.0,281.2 L299.0,280.9 L300.0,280.6 L301.0,280.4 L302.0,280.2 L303.0,280.1 L304.0,280.0 L305.0,279.9 L306.0,279.9 L307.0,279.9 L308.0,279.9 L309.0,280.0 L310.0,280.1 L311.0,280.2 L312.0,280.3 L313.0,280.5 L314.0,280.7 L315.0,281.0 L316.0,281.2 L317.0,281.6 L318.0,281.9 L319.0,282.4 L320.0,282.8 L321.0,283.3 L322.0,283.9 L323.0,284.4 L324.0,285.1 L325.0,285.7 L326.0,286.4 L327.0,287.1 L328.0,287.8 L329.0,288.6 L330.0,289.4 L331.0,290.3 L332.0,291.2 L333.0,292.2 L334.0,293.2 L335.0,294.3 L336.0,295.4 L337.0,296.6 L338.0,297.8 L339.0,299.0 L340.0,300.3 L341.0,301.6 L342.0,302.9 L343.0,304.1 L344.0,305.4 L345.0,306.6 L346.0,307.8 L347.0,309.0 L348.0,310.2 L349.0,311.5 L350.0,312.7 L351.0,313.9 L352.0,315.2 L353.0,316.5 L354.0,317.8 L355.0,319.1 L356.0,320.5 L357.0,321.9 L358.0,323.3 L359.0,324.8 L360.0,326.2 L361.0,327.7 L362.0,329.2 L363.0,330.7 L364.0,332.3 L365.0,333.8 L366.0,335.4 L367.0,337.0 L368.0,338.6 L369.0,340.3 L370.0,341.9 L371.0,343.7 L372.0,345.4 L373.0,347.2 L374.0,349.0 L375.0,350.8 L376.0,352.6 L377.0,354.5 L378.0,356.4 L379.0,358.3 L380.0,360.2 L381.0,362.2 L382.0,364.1 L383.0,366.1 L384.0,368.0 L385.0,370.0 L386.0,372.0 L387.0,374.0 L388.0,376.0 L389.0,377.9 L390.0,379.9 L391.0,381.9 L392.0,383.9 L393.0,385.8 L394.0,387.8 L395.0,389.7 L396.0,391.6 L397.0,393.5 L398.0,395.4 L399.0,397.3 L400.0,399.1 L401.0,401.0 L402.0,402.8 L403.0,404.6 L404.0,406.4 L405.0,408.1 L406.0,409.9 L407.0,411.7 L408.0,413.5 L409.0,415.3 L410.0,417.1 L411.0,418.9 L412.0,420.7 L413.0,422.5 L414.0,424.3 L415.0,426.1 L416.0,427.8 L417.0,429.6 L418.0,431.3 L419.0,433.1 L420.0,434.8 L423.5,440.7 L427.0,446.3 L430.5,451.8 L434.0,457.0 L437.5,462.0 L441.0,466.8 L444.4,471.2 L447.9,475.4 L451.4,479.3 L454.9,483.0 L458.4,486.6 L461.9,490.1 L465.4,493.5 L468.9,496.8 L472.4,500.1 L475.9,503.2 L479.4,506.3 L482.9,509.3 L486.4,512.3 L489.8,515.2 L493.3,518.1 L496.8,520.9 L500.3,523.7 L503.8,526.4 L507.3,529.1 L510.8,531.8 L514.3,534.5 L517.8,537.1 L521.3,539.5 L524.8,541.9 L528.3,544.0 L531.8,546.0 L535.3,547.9 L538.7,549.6 L542.2,551.1 L545.7,552.6 L549.2,553.9 L552.7,555.1 L556.2,556.2 L559.7,557.3 L563.2,558.2 L566.7,559.1 L570.2,560.0 L573.7,560.7 L577.2,561.5 L580.7,562.1 L584.1,562.8 L587.6,563.4 L591.1,564.0 L594.6,564.5 L598.1,565.0 L601.6,565.5 L605.1,566.0 L608.6,566.4 L612.1,566.9 L615.6,567.3 L619.1,567.7 L622.6,568.1 L626.1,568.5 L629.5,568.8 L633.0,569.2 L636.5,569.6 L640.0,570.0 L643.5,570.5 L647.0,570.9 L650.5,571.3 L654.0,571.8 L657.5,572.3 L661.0,572.8 L664.5,573.4 L668.0,573.9 L671.5,574.5 L674.9,575.1 L678.4,575.8 L681.9,576.4 L685.4,577.1 L688.9,577.8 L692.4,578.6 L695.9,579.3 L699.4,580.0 L702.9,580.8 L706.4,581.5 L709.9,582.2 L713.4,582.9 L716.9,583.6 L720.4,584.4 L723.8,585.1 L727.3,585.8 L730.8,586.5 L734.3,587.2 L737.8,587.9 L741.3,588.6 L744.8,589.3 L748.3,590.0 L751.8,590.7 L755.3,591.4 L758.8,592.1 L762.3,592.8 L765.8,593.5 L769.2,594.2 L772.7,595.0 L776.2,595.7 L779.7,596.5 L783.2,597.3 L786.7,598.1 L790.2,598.9 L793.7,599.7 L797.2,600.5 L800.7,601.3 L804.2,602.1 L807.7,603.0 L811.2,603.8 L814.6,604.6 L818.1,605.5 L821.6,606.3 L825.1,607.1 L828.6,608.0 L832.1,608.8 L835.6,609.6 L839.1,610.4 L842.6,611.2 L846.1,612.1 L849.6,612.8 L853.1,613.6 L856.6,614.4 L860.0,615.2 L863.5,615.9 L867.0,616.7 L870.5,617.4 L874.0,618.2 L877.5,618.9 L881.0,619.6 L884.5,620.3 L888.0,620.9 L891.5,621.6 L895.0,622.3 L898.5,622.9 L902.0,623.6 L905.5,624.2 L908.9,624.8 L912.4,625.4 L915.9,626.0 L919.4,626.6 L922.9,627.2 L926.4,627.8 L929.9,628.4 L933.4,629.0 L936.9,629.5 L940.4,630.1 L943.9,630.7 L947.4,631.2 L950.9,631.8 L954.3,632.3 L957.8,632.9 L961.3,633.4 L964.8,633.9 L968.3,634.5 L971.8,635.0 L975.3,635.6"/>
<path class="c" stroke="#ff40c8" d="M184.0,496.5 L184.6,496.6 L185.3,496.7 L185.9,496.8 L186.5,496.9 L187.2,496.9 L187.8,497.0 L188.4,497.0 L189.1,497.0 L189.7,497.0 L190.3,497.0 L191.0,497.0 L191.6,496.9 L192.2,496.7 L192.9,496.4 L193.5,495.9 L194.1,495.4 L194.8,494.7 L195.4,494.0 L196.0,493.3 L196.7,492.5 L197.3,491.7 L197.9,490.8 L198.6,490.0 L199.2,489.3 L199.8,488.4 L200.5,487.5 L201.1,486.5 L201.7,485.5 L202.4,484.4 L203.0,483.3 L203.6,482.1 L204.3,480.9 L204.9,479.6 L205.5,478.4 L206.2,477.1 L206.8,475.7 L207.4,474.2 L208.1,472.7 L208.7,471.1 L209.3,469.5 L210.0,467.8 L210.6,466.1 L211.2,464.4 L211.9,462.7 L212.5,461.0 L213.1,459.4 L213.8,457.7 L214.4,456.1 L215.0,454.5 L215.7,452.9 L216.3,451.3 L216.9,449.6 L217.6,447.9 L218.2,446.2 L218.8,444.4 L219.5,442.5 L220.1,440.6 L220.7,438.6 L221.4,436.6 L222.0,434.5 L222.6,432.3 L223.3,430.1 L223.9,427.8 L224.5,425.5 L225.2,423.1 L225.8,420.7 L226.4,418.3 L227.1,415.9 L227.7,413.5 L228.3,411.1 L229.0,408.7 L229.6,406.3 L230.2,403.9 L230.9,401.4 L231.5,399.0 L232.1,396.5 L232.8,394.1 L233.4,391.6 L234.0,389.2 L234.7,386.8 L235.3,384.4 L235.9,382.0 L236.6,379.6 L237.2,377.3 L237.8,375.0 L238.5,372.8 L239.1,370.6 L239.7,368.5 L240.4,366.4 L241.0,364.3 L241.6,362.2 L242.3,360.2 L242.9,358.2 L243.5,356.3 L244.2,354.4 L244.8,352.5 L245.4,350.6 L246.1,348.7 L246.7,346.9 L247.3,345.0 L248.0,343.2 L248.6,341.4 L249.2,339.6 L249.9,337.8 L250.5,336.0 L251.1,334.2 L251.8,332.4 L252.4,330.6 L253.0,328.8 L253.7,327.0 L254.3,325.3 L254.9,323.5 L255.6,321.7 L256.2,319.9 L256.8,318.2 L257.5,316.4 L258.1,314.7 L258.7,313.0 L259.4,311.3 L260.0,309.6 L261.0,307.0 L262.0,304.5 L263.0,302.1 L264.0,299.8 L265.0,297.5 L266.0,295.3 L267.0,293.1 L268.0,291.0 L269.0,289.0 L270.0,287.0 L271.0,285.0 L272.0,283.0 L273.0,281.1 L274.0,279.3 L275.0,277.5 L276.0,275.8 L277.0,274.2 L278.0,272.6 L279.0,271.1 L280.0,269.6 L281.0,268.2 L282.0,266.9 L283.0,265.6 L284.0,264.3 L285.0,263.2 L286.0,262.1 L287.0,261.1 L288.0,260.1 L289.0,259.2 L290.0,258.3 L291.0,257.5 L292.0,256.8 L293.0,256.2 L294.0,255.5 L295.0,255.0 L296.0,254.5 L297.0,254.0 L298.0,253.6 L299.0,253.2 L300.0,252.8 L301.0,252.5 L302.0,252.3 L303.0,252.0 L304.0,251.8 L305.0,251.7 L306.0,251.5 L307.0,251.4 L308.0,251.3 L309.0,251.3 L310.0,251.3 L311.0,251.3 L312.0,251.3 L313.0,251.3 L314.0,251.4 L315.0,251.5 L316.0,251.7 L317.0,251.9 L318.0,252.1 L319.0,252.3 L320.0,252.6 L321.0,253.0 L322.0,253.3 L323.0,253.7 L324.0,254.2 L325.0,254.7 L326.0,255.3 L327.0,255.9 L328.0,256.6 L329.0,257.3 L330.0,258.1 L331.0,258.9 L332.0,259.9 L333.0,260.9 L334.0,262.0 L335.0,263.2 L336.0,264.4 L337.0,265.8 L338.0,267.2 L339.0,268.7 L340.0,270.1 L341.0,271.6 L342.0,273.1 L343.0,274.5 L344.0,275.9 L345.0,277.2 L346.0,278.6 L347.0,279.9 L348.0,281.3 L349.0,282.7 L350.0,284.1 L351.0,285.5 L352.0,287.0 L353.0,288.4 L354.0,289.9 L355.0,291.4 L356.0,292.9 L357.0,294.5 L358.0,296.0 L359.0,297.6 L360.0,299.2 L361.0,300.8 L362.0,302.4 L363.0,304.1 L364.0,305.7 L365.0,307.4 L366.0,309.2 L367.0,310.9 L368.0,312.7 L369.0,314.5 L370.0,316.3 L371.0,318.2 L372.0,320.0 L373.0,322.0 L374.0,323.9 L375.0,325.8 L376.0,327.8 L377.0,329.8 L378.0,331.8 L379.0,333.8 L380.0,335.8 L381.0,337.8 L382.0,339.9 L383.0,342.0 L384.0,344.1 L385.0,346.2 L386.0,348.4 L387.0,350.6 L388.0,352.8 L389.0,355.0 L390.0,357.2 L391.0,359.5 L392.0,361.8 L393.0,364.0 L394.0,366.3 L395.0,368.6 L396.0,370.8 L397.0,373.1 L398.0,375.3 L399.0,377.5 L400.0,379.7 L401.0,381.9 L402.0,384.1 L403.0,386.2 L404.0,388.3 L405.0,390.4 L406.0,392.5 L407.0,394.5 L408.0,396.4 L409.0,398.4 L410.0,400.3 L411.0,402.1 L412.0,403.9 L413.0,405.7 L414.0,407.5 L415.0,409.3 L416.0,411.0 L417.0,412.8 L418.0,414.5 L419.0,416.3 L420.0,418.0 L423.5,424.0 L427.0,430.1 L430.5,436.0 L434.0,441.9 L437.5,447.7 L441.0,453.3 L444.4,458.8 L447.9,464.1 L451.4,469.3 L454.9,474.2 L458.4,478.8 L461.9,483.2 L465.4,487.4 L468.9,491.2 L472.4,494.9 L475.9,498.4 L479.4,501.7 L482.9,504.8 L486.4,507.9 L489.8,510.8 L493.3,513.7 L496.8,516.5 L500.3,519.2 L503.8,522.0 L507.3,524.7 L510.8,527.5 L514.3,530.1 L517.8,532.7 L521.3,535.2 L524.8,537.6 L528.3,539.8 L531.8,541.8 L535.3,543.7 L538.7,545.4 L542.2,547.0 L545.7,548.5 L549.2,549.8 L552.7,551.1 L556.2,552.2 L559.7,553.3 L563.2,554.3 L566.7,555.2 L570.2,556.1 L573.7,557.0 L577.2,557.7 L580.7,558.5 L584.1,559.2 L587.6,559.9 L591.1,560.5 L594.6,561.2 L598.1,561.7 L601.6,562.3 L605.1,562.8 L608.6,563.4 L612.1,563.9 L615.6,564.3 L619.1,564.8 L622.6,565.3 L626.1,565.7 L629.5,566.2 L633.0,566.6 L636.5,567.0 L640.0,567.5 L643.5,568.0 L647.0,568.4 L650.5,568.9 L654.0,569.4 L657.5,569.9 L661.0,570.5 L664.5,571.0 L668.0,571.6 L671.5,572.2 L674.9,572.9 L678.4,573.5 L681.9,574.2 L685.4,574.9 L688.9,575.7 L692.4,576.4 L695.9,577.2 L699.4,577.9 L702.9,578.7 L706.4,579.5 L709.9,580.2 L713.4,581.0 L716.9,581.7 L720.4,582.4 L723.8,583.2 L727.3,583.9 L730.8,584.7 L734.3,585.4 L737.8,586.1 L741.3,586.8 L744.8,587.6 L748.3,588.3 L751.8,589.0 L755.3,589.8 L758.8,590.5 L762.3,591.2 L765.8,592.0 L769.2,592.7 L772.7,593.5 L776.2,594.2 L779.7,595.0 L783.2,595.8 L786.7,596.6 L790.2,597.4 L793.7,598.2 L797.2,599.0 L800.7,599.8 L804.2,600.6 L807.7,601.5 L811.2,602.3 L814.6,603.1 L818.1,604.0 L821.6,604.8 L825.1,605.6 L828.6,606.4 L832.1,607.3 L835.6,608.1 L839.1,608.9 L842.6,609.7 L846.1,610.5 L849.6,611.3 L853.1,612.1 L856.6,612.9 L860.0,613.6 L863.5,614.4 L867.0,615.1 L870.5,615.9 L874.0,616.6 L877.5,617.3 L881.0,618.0 L884.5,618.8 L888.0,619.4 L891.5,620.1 L895.0,620.8 L898.5,621.5 L902.0,622.1 L905.5,622.8 L908.9,623.4 L912.4,624.1 L915.9,624.7 L919.4,625.3 L922.9,626.0 L926.4,626.6 L929.9,627.2 L933.4,627.8 L936.9,628.4 L940.4,629.0 L943.9,629.6 L947.4,630.2 L950.9,630.8 L954.3,631.4 L957.8,631.9 L961.3,632.5 L964.8,633.1 L968.3,633.7 L971.8,634.3 L975.3,634.8"/>
<path class="c" stroke="#1818ff" d="M184.0,493.0 L184.6,493.1 L185.3,493.2 L185.9,493.3 L186.5,493.4 L187.2,493.4 L187.8,493.5 L188.4,493.5 L189.1,493.5 L189.7,493.5 L190.3,493.5 L191.0,493.5 L191.6,493.4 L192.2,493.2 L192.9,492.9 L193.5,492.5 L194.1,492.0 L194.8,491.5 L195.4,490.9 L196.0,490.2 L196.7,489.5 L197.3,488.8 L197.9,488.1 L198.6,487.3 L199.2,486.4 L199.8,485.4 L200.5,484.3 L201.1,483.1 L201.7,481.8 L202.4,480.4 L203.0,479.0 L203.6,477.6 L204.3,476.1 L204.9,474.6 L205.5,473.1 L206.2,471.6 L206.8,470.1 L207.4,468.5 L208.1,466.9 L208.7,465.3 L209.3,463.6 L210.0,461.9 L210.6,460.2 L211.2,458.4 L211.9,456.6 L212.5,454.7 L213.1,452.8 L213.8,450.9 L214.4,448.9 L215.0,446.8 L215.7,444.8 L216.3,442.6 L216.9,440.4 L217.6,438.2 L218.2,436.0 L218.8,433.7 L219.5,431.4 L220.1,429.0 L220.7,426.6 L221.4,424.1 L222.0,421.6 L222.6,419.1 L223.3,416.5 L223.9,414.0 L224.5,411.4 L225.2,408.9 L225.8,406.4 L226.4,403.9 L227.1,401.4 L227.7,398.9 L228.3,396.5 L229.0,394.0 L229.6,391.5 L230.2,389.1 L230.9,386.7 L231.5,384.3 L232.1,381.9 L232.8,379.5 L233.4,377.2 L234.0,374.9 L234.7,372.6 L235.3,370.4 L235.9,368.2 L236.6,366.1 L237.2,363.9 L237.8,361.8 L238.5,359.8 L239.1,357.7 L239.7,355.7 L240.4,353.7 L241.0,351.7 L241.6,349.7 L242.3,347.8 L242.9,345.8 L243.5,343.9 L244.2,341.9 L244.8,340.0 L245.4,338.1 L246.1,336.1 L246.7,334.2 L247.3,332.2 L248.0,330.2 L248.6,328.2 L249.2,326.3 L249.9,324.3 L250.5,322.3 L251.1,320.3 L251.8,318.3 L252.4,316.3 L253.0,314.3 L253.7,312.3 L254.3,310.3 L254.9,308.3 L255.6,306.3 L256.2,304.3 L256.8,302.3 L257.5,300.4 L258.1,298.4 L258.7,296.5 L259.4,294.6 L260.0,292.8 L261.0,289.8 L262.0,287.0 L263.0,284.2 L264.0,281.5 L265.0,278.9 L266.0,276.3 L267.0,273.8 L268.0,271.3 L269.0,268.9 L270.0,266.6 L271.0,264.4 L272.0,262.3 L273.0,260.2 L274.0,258.3 L275.0,256.4 L276.0,254.5 L277.0,252.8 L278.0,251.1 L279.0,249.4 L280.0,247.8 L281.0,246.2 L282.0,244.7 L283.0,243.2 L284.0,241.8 L285.0,240.4 L286.0,239.1 L287.0,237.9 L288.0,236.7 L289.0,235.6 L290.0,234.5 L291.0,233.5 L292.0,232.6 L293.0,231.8 L294.0,231.1 L295.0,230.4 L296.0,229.8 L297.0,229.3 L298.0,228.8 L299.0,228.5 L300.0,228.2 L301.0,227.9 L302.0,227.7 L303.0,227.6 L304.0,227.5 L305.0,227.4 L306.0,227.4 L307.0,227.4 L308.0,227.5 L309.0,227.6 L310.0,227.7 L311.0,227.8 L312.0,228.0 L313.0,228.2 L314.0,228.5 L315.0,228.7 L316.0,229.1 L317.0,229.4 L318.0,229.8 L319.0,230.2 L320.0,230.7 L321.0,231.2 L322.0,231.7 L323.0,232.3 L324.0,233.0 L325.0,233.7 L326.0,234.4 L327.0,235.2 L328.0,236.1 L329.0,237.0 L330.0,237.9 L331.0,238.9 L332.0,239.9 L333.0,240.9 L334.0,242.0 L335.0,243.1 L336.0,244.3 L337.0,245.4 L338.0,246.6 L339.0,247.8 L340.0,249.1 L341.0,250.4 L342.0,251.7 L343.0,253.0 L344.0,254.4 L345.0,255.7 L346.0,257.1 L347.0,258.5 L348.0,260.0 L349.0,261.4 L350.0,262.9 L351.0,264.5 L352.0,266.0 L353.0,267.6 L354.0,269.2 L355.0,270.9 L356.0,272.6 L357.0,274.3 L358.0,276.0 L359.0,277.8 L360.0,279.6 L361.0,281.4 L362.0,283.2 L363.0,285.1 L364.0,287.0 L365.0,288.9 L366.0,290.8 L367.0,292.7 L368.0,294.7 L369.0,296.6 L370.0,298.6 L371.0,300.6 L372.0,302.6 L373.0,304.6 L374.0,306.7 L375.0,308.7 L376.0,310.7 L377.0,312.8 L378.0,314.8 L379.0,316.8 L380.0,318.9 L381.0,320.9 L382.0,323.0 L383.0,325.0 L384.0,327.0 L385.0,329.1 L386.0,331.1 L387.0,333.1 L388.0,335.1 L389.0,337.1 L390.0,339.1 L391.0,341.1 L392.0,343.2 L393.0,345.2 L394.0,347.3 L395.0,349.5 L396.0,351.6 L397.0,353.8 L398.0,356.0 L399.0,358.3 L400.0,360.5 L401.0,362.7 L402.0,365.0 L403.0,367.2 L404.0,369.5 L405.0,371.7 L406.0,373.9 L407.0,376.1 L408.0,378.3 L409.0,380.5 L410.0,382.7 L411.0,384.8 L412.0,386.9 L413.0,389.0 L414.0,391.1 L415.0,393.1 L416.0,395.1 L417.0,397.1 L418.0,399.1 L419.0,401.0 L420.0,402.9 L423.5,409.2 L427.0,415.5 L430.5,421.6 L434.0,427.6 L437.5,433.6 L441.0,439.6 L444.4,445.6 L447.9,451.5 L451.4,457.2 L454.9,462.7 L458.4,468.0 L461.9,473.1 L465.4,477.8 L468.9,482.2 L472.4,486.3 L475.9,490.0 L479.4,493.6 L482.9,496.9 L486.4,500.0 L489.8,503.0 L493.3,505.8 L496.8,508.7 L500.3,511.5 L503.8,514.3 L507.3,517.2 L510.8,520.0 L514.3,522.8 L517.8,525.5 L521.3,528.0 L524.8,530.5 L528.3,532.7 L531.8,534.8 L535.3,536.8 L538.7,538.5 L542.2,540.2 L545.7,541.7 L549.2,543.1 L552.7,544.4 L556.2,545.6 L559.7,546.8 L563.2,547.9 L566.7,549.0 L570.2,550.0 L573.7,551.0 L577.2,551.9 L580.7,552.8 L584.1,553.6 L587.6,554.5 L591.1,555.3 L594.6,556.0 L598.1,556.8 L601.6,557.5 L605.1,558.1 L608.6,558.8 L612.1,559.4 L615.6,560.0 L619.1,560.6 L622.6,561.2 L626.1,561.8 L629.5,562.3 L633.0,562.9 L636.5,563.4 L640.0,564.0 L643.5,564.5 L647.0,565.0 L650.5,565.6 L654.0,566.1 L657.5,566.7 L661.0,567.3 L664.5,567.8 L668.0,568.5 L671.5,569.1 L674.9,569.8 L678.4,570.4 L681.9,571.2 L685.4,571.9 L688.9,572.7 L692.4,573.5 L695.9,574.3 L699.4,575.1 L702.9,575.9 L706.4,576.7 L709.9,577.5 L713.4,578.3 L716.9,579.1 L720.4,579.9 L723.8,580.6 L727.3,581.4 L730.8,582.2 L734.3,583.0 L737.8,583.7 L741.3,584.5 L744.8,585.3 L748.3,586.0 L751.8,586.8 L755.3,587.5 L758.8,588.3 L762.3,589.1 L765.8,589.8 L769.2,590.6 L772.7,591.4 L776.2,592.2 L779.7,593.0 L783.2,593.8 L786.7,594.6 L790.2,595.4 L793.7,596.2 L797.2,597.0 L800.7,597.8 L804.2,598.6 L807.7,599.4 L811.2,600.3 L814.6,601.1 L818.1,601.9 L821.6,602.7 L825.1,603.5 L828.6,604.4 L832.1,605.2 L835.6,606.0 L839.1,606.8 L842.6,607.6 L846.1,608.4 L849.6,609.2 L853.1,609.9 L856.6,610.7 L860.0,611.5 L863.5,612.3 L867.0,613.0 L870.5,613.8 L874.0,614.5 L877.5,615.2 L881.0,616.0 L884.5,616.7 L888.0,617.4 L891.5,618.1 L895.0,618.8 L898.5,619.5 L902.0,620.2 L905.5,620.9 L908.9,621.6 L912.4,622.3 L915.9,622.9 L919.4,623.6 L922.9,624.3 L926.4,624.9 L929.9,625.6 L933.4,626.2 L936.9,626.9 L940.4,627.5 L943.9,628.1 L947.4,628.8 L950.9,629.4 L954.3,630.0 L957.8,630.7 L961.3,631.3 L964.8,631.9 L968.3,632.6 L971.8,633.2 L975.3,633.8"/>
<path class="c" stroke="#885858" d="M184.0,490.0 L184.6,490.1 L185.3,490.2 L185.9,490.3 L186.5,490.4 L187.2,490.4 L187.8,490.5 L188.4,490.5 L189.1,490.5 L189.7,490.5 L190.3,490.5 L191.0,490.5 L191.6,490.4 L192.2,490.2 L192.9,489.8 L193.5,489.4 L194.1,488.8 L194.8,488.1 L195.4,487.4 L196.0,486.6 L196.7,485.8 L197.3,484.9 L197.9,484.1 L198.6,483.2 L199.2,482.1 L199.8,480.9 L200.5,479.5 L201.1,478.1 L201.7,476.5 L202.4,474.9 L203.0,473.3 L203.6,471.6 L204.3,469.9 L204.9,468.3 L205.5,466.6 L206.2,464.9 L206.8,463.1 L207.4,461.3 L208.1,459.5 L208.7,457.6 L209.3,455.7 L210.0,453.7 L210.6,451.7 L211.2,449.7 L211.9,447.7 L212.5,445.6 L213.1,443.5 L213.8,441.4 L214.4,439.3 L215.0,437.2 L215.7,435.0 L216.3,432.8 L216.9,430.6 L217.6,428.4 L218.2,426.2 L218.8,423.9 L219.5,421.6 L220.1,419.2 L220.7,416.8 L221.4,414.4 L222.0,411.9 L222.6,409.3 L223.3,406.8 L223.9,404.2 L224.5,401.5 L225.2,398.9 L225.8,396.2 L226.4,393.5 L227.1,390.8 L227.7,388.1 L228.3,385.4 L229.0,382.7 L229.6,380.0 L230.2,377.3 L230.9,374.6 L231.5,371.9 L232.1,369.3 L232.8,366.6 L233.4,363.9 L234.0,361.3 L234.7,358.7 L235.3,356.1 L235.9,353.5 L236.6,351.0 L237.2,348.6 L237.8,346.1 L238.5,343.8 L239.1,341.4 L239.7,339.2 L240.4,336.9 L241.0,334.8 L241.6,332.6 L242.3,330.5 L242.9,328.4 L243.5,326.3 L244.2,324.2 L244.8,322.2 L245.4,320.2 L246.1,318.1 L246.7,316.1 L247.3,314.1 L248.0,312.0 L248.6,310.0 L249.2,307.9 L249.9,305.9 L250.5,303.9 L251.1,301.8 L251.8,299.8 L252.4,297.7 L253.0,295.7 L253.7,293.7 L254.3,291.7 L254.9,289.7 L255.6,287.7 L256.2,285.7 L256.8,283.7 L257.5,281.8 L258.1,279.9 L258.7,278.0 L259.4,276.1 L260.0,274.2 L261.0,271.3 L262.0,268.4 L263.0,265.6 L264.0,262.9 L265.0,260.2 L266.0,257.6 L267.0,255.0 L268.0,252.5 L269.0,250.1 L270.0,247.7 L271.0,245.4 L272.0,243.1 L273.0,240.8 L274.0,238.5 L275.0,236.2 L276.0,233.9 L277.0,231.6 L278.0,229.4 L279.0,227.1 L280.0,224.9 L281.0,222.7 L282.0,220.6 L283.0,218.5 L284.0,216.5 L285.0,214.5 L286.0,212.7 L287.0,210.9 L288.0,209.2 L289.0,207.6 L290.0,206.1 L291.0,204.7 L292.0,203.3 L293.0,202.1 L294.0,201.0 L295.0,199.9 L296.0,199.0 L297.0,198.2 L298.0,197.4 L299.0,196.8 L300.0,196.2 L301.0,195.8 L302.0,195.4 L303.0,195.1 L304.0,194.8 L305.0,194.7 L306.0,194.5 L307.0,194.5 L308.0,194.4 L309.0,194.4 L310.0,194.4 L311.0,194.5 L312.0,194.5 L313.0,194.6 L314.0,194.8 L315.0,194.9 L316.0,195.1 L317.0,195.3 L318.0,195.6 L319.0,195.9 L320.0,196.3 L321.0,196.7 L322.0,197.1 L323.0,197.6 L324.0,198.2 L325.0,198.8 L326.0,199.5 L327.0,200.2 L328.0,201.1 L329.0,202.0 L330.0,203.0 L331.0,204.0 L332.0,205.2 L333.0,206.4 L334.0,207.7 L335.0,209.1 L336.0,210.5 L337.0,212.0 L338.0,213.5 L339.0,215.1 L340.0,216.7 L341.0,218.3 L342.0,220.0 L343.0,221.7 L344.0,223.4 L345.0,225.1 L346.0,226.8 L347.0,228.6 L348.0,230.3 L349.0,232.1 L350.0,233.9 L351.0,235.7 L352.0,237.5 L353.0,239.4 L354.0,241.3 L355.0,243.3 L356.0,245.2 L357.0,247.3 L358.0,249.3 L359.0,251.5 L360.0,253.6 L361.0,255.8 L362.0,258.0 L363.0,260.3 L364.0,262.5 L365.0,264.8 L366.0,267.2 L367.0,269.5 L368.0,271.9 L369.0,274.3 L370.0,276.8 L371.0,279.2 L372.0,281.6 L373.0,284.1 L374.0,286.5 L375.0,288.9 L376.0,291.4 L377.0,293.8 L378.0,296.2 L379.0,298.6 L380.0,301.0 L381.0,303.4 L382.0,305.7 L383.0,308.1 L384.0,310.4 L385.0,312.7 L386.0,315.1 L387.0,317.3 L388.0,319.6 L389.0,321.9 L390.0,324.1 L391.0,326.3 L392.0,328.5 L393.0,330.6 L394.0,332.7 L395.0,334.8 L396.0,336.9 L397.0,339.0 L398.0,341.0 L399.0,343.1 L400.0,345.1 L401.0,347.2 L402.0,349.3 L403.0,351.4 L404.0,353.5 L405.0,355.6 L406.0,357.8 L407.0,359.9 L408.0,362.0 L409.0,364.1 L410.0,366.2 L411.0,368.3 L412.0,370.4 L413.0,372.5 L414.0,374.5 L415.0,376.6 L416.0,378.6 L417.0,380.7 L418.0,382.7 L419.0,384.7 L420.0,386.7 L423.5,393.6 L427.0,400.3 L430.5,406.8 L434.0,413.3 L437.5,419.8 L441.0,426.4 L444.4,433.0 L447.9,439.5 L451.4,446.0 L454.9,452.3 L458.4,458.3 L461.9,464.0 L465.4,469.4 L468.9,474.5 L472.4,479.2 L475.9,483.5 L479.4,487.6 L482.9,491.3 L486.4,494.8 L489.8,498.0 L493.3,501.2 L496.8,504.2 L500.3,507.1 L503.8,510.0 L507.3,512.9 L510.8,515.7 L514.3,518.5 L517.8,521.1 L521.3,523.6 L524.8,525.9 L528.3,528.0 L531.8,530.0 L535.3,531.8 L538.7,533.4 L542.2,535.0 L545.7,536.4 L549.2,537.7 L552.7,539.0 L556.2,540.2 L559.7,541.4 L563.2,542.6 L566.7,543.8 L570.2,544.9 L573.7,546.0 L577.2,547.1 L580.7,548.1 L584.1,549.1 L587.6,550.1 L591.1,551.0 L594.6,551.9 L598.1,552.8 L601.6,553.6 L605.1,554.5 L608.6,555.2 L612.1,556.0 L615.6,556.7 L619.1,557.4 L622.6,558.1 L626.1,558.8 L629.5,559.4 L633.0,560.1 L636.5,560.7 L640.0,561.3 L643.5,561.9 L647.0,562.5 L650.5,563.1 L654.0,563.7 L657.5,564.3 L661.0,564.9 L664.5,565.5 L668.0,566.2 L671.5,566.8 L674.9,567.5 L678.4,568.2 L681.9,568.9 L685.4,569.7 L688.9,570.5 L692.4,571.3 L695.9,572.2 L699.4,573.0 L702.9,573.8 L706.4,574.7 L709.9,575.5 L713.4,576.3 L716.9,577.1 L720.4,577.9 L723.8,578.8 L727.3,579.6 L730.8,580.4 L734.3,581.2 L737.8,582.0 L741.3,582.8 L744.8,583.6 L748.3,584.4 L751.8,585.1 L755.3,585.9 L758.8,586.7 L762.3,587.5 L765.8,588.3 L769.2,589.1 L772.7,589.9 L776.2,590.7 L779.7,591.5 L783.2,592.3 L786.7,593.1 L790.2,593.9 L793.7,594.7 L797.2,595.5 L800.7,596.3 L804.2,597.1 L807.7,598.0 L811.2,598.8 L814.6,599.6 L818.1,600.4 L821.6,601.2 L825.1,602.0 L828.6,602.8 L832.1,603.6 L835.6,604.4 L839.1,605.2 L842.6,606.0 L846.1,606.8 L849.6,607.6 L853.1,608.4 L856.6,609.2 L860.0,609.9 L863.5,610.7 L867.0,611.5 L870.5,612.2 L874.0,613.0 L877.5,613.7 L881.0,614.5 L884.5,615.2 L888.0,615.9 L891.5,616.7 L895.0,617.4 L898.5,618.1 L902.0,618.8 L905.5,619.5 L908.9,620.2 L912.4,620.9 L915.9,621.6 L919.4,622.3 L922.9,623.0 L926.4,623.7 L929.9,624.4 L933.4,625.0 L936.9,625.7 L940.4,626.4 L943.9,627.1 L947.4,627.7 L950.9,628.4 L954.3,629.1 L957.8,629.7 L961.3,630.4 L964.8,631.1 L968.3,631.7 L971.8,632.4 L975.3,633.1"/>
<path class="c" stroke="#20e020" d="M185.0,486.5 L185.6,486.5 L186.2,486.5 L186.9,486.4 L187.5,486.4 L188.1,486.3 L188.8,486.2 L189.4,486.2 L190.0,486.1 L190.6,485.9 L191.2,485.8 L191.9,485.7 L192.5,485.5 L193.1,485.3 L193.8,484.9 L194.4,484.2 L195.0,483.5 L195.6,482.5 L196.2,481.5 L196.9,480.4 L197.5,479.3 L198.1,478.1 L198.8,476.9 L199.4,475.6 L200.0,474.0 L200.6,472.2 L201.2,470.4 L201.9,468.5 L202.5,466.6 L203.1,464.7 L203.8,462.9 L204.4,461.2 L205.0,459.5 L205.6,457.8 L206.2,456.1 L206.9,454.4 L207.5,452.7 L208.1,450.9 L208.8,449.2 L209.4,447.4 L210.0,445.6 L210.6,443.8 L211.2,442.0 L211.9,440.0 L212.5,438.1 L213.1,436.0 L213.8,433.8 L214.4,431.6 L215.0,429.2 L215.6,426.7 L216.2,424.0 L216.9,421.3 L217.5,418.4 L218.1,415.5 L218.8,412.7 L219.4,409.8 L220.0,407.0 L220.6,404.2 L221.2,401.4 L221.9,398.7 L222.5,396.0 L223.1,393.3 L223.8,390.6 L224.4,387.9 L225.0,385.1 L225.6,382.4 L226.2,379.7 L226.9,377.0 L227.5,374.2 L228.1,371.5 L228.8,368.8 L229.4,366.1 L230.0,363.4 L230.6,360.7 L231.2,358.0 L231.9,355.3 L232.5,352.7 L233.1,350.1 L233.8,347.5 L234.4,344.9 L235.0,342.3 L235.6,339.8 L236.2,337.3 L236.9,334.8 L237.5,332.3 L238.1,329.9 L238.8,327.4 L239.4,325.0 L240.0,322.6 L240.6,320.2 L241.2,317.8 L241.9,315.4 L242.5,313.1 L243.1,310.7 L243.8,308.4 L244.4,306.0 L245.0,303.7 L245.6,301.4 L246.2,299.1 L246.9,296.8 L247.5,294.5 L248.1,292.3 L248.8,290.0 L249.4,287.8 L250.0,285.5 L250.6,283.3 L251.2,281.1 L251.9,278.9 L252.5,276.8 L253.1,274.6 L253.8,272.5 L254.4,270.4 L255.0,268.4 L255.6,266.3 L256.2,264.3 L256.9,262.3 L257.5,260.4 L258.1,258.5 L258.8,256.6 L259.4,254.8 L260.0,252.9 L261.0,250.1 L262.0,247.4 L263.0,244.8 L264.0,242.2 L265.0,239.7 L266.0,237.3 L267.0,234.9 L268.0,232.5 L269.0,230.1 L270.0,227.7 L271.0,225.3 L272.0,222.9 L273.0,220.4 L274.0,218.0 L275.0,215.6 L276.0,213.2 L277.0,210.8 L278.0,208.5 L279.0,206.2 L280.0,204.0 L281.0,201.9 L282.0,199.8 L283.0,197.8 L284.0,196.0 L285.0,194.2 L286.0,192.5 L287.0,190.9 L288.0,189.4 L289.0,188.0 L290.0,186.7 L291.0,185.5 L292.0,184.3 L293.0,183.2 L294.0,182.2 L295.0,181.3 L296.0,180.4 L297.0,179.6 L298.0,178.9 L299.0,178.2 L300.0,177.6 L301.0,177.1 L302.0,176.6 L303.0,176.2 L304.0,175.9 L305.0,175.6 L306.0,175.3 L307.0,175.2 L308.0,175.0 L309.0,174.9 L310.0,174.9 L311.0,174.9 L312.0,175.0 L313.0,175.1 L314.0,175.2 L315.0,175.4 L316.0,175.7 L317.0,176.0 L318.0,176.5 L319.0,176.9 L320.0,177.5 L321.0,178.1 L322.0,178.9 L323.0,179.7 L324.0,180.6 L325.0,181.6 L326.0,182.6 L327.0,183.8 L328.0,185.0 L329.0,186.3 L330.0,187.7 L331.0,189.1 L332.0,190.6 L333.0,192.1 L334.0,193.7 L335.0,195.2 L336.0,196.8 L337.0,198.4 L338.0,200.0 L339.0,201.6 L340.0,203.2 L341.0,204.8 L342.0,206.4 L343.0,208.0 L344.0,209.7 L345.0,211.3 L346.0,213.0 L347.0,214.7 L348.0,216.3 L349.0,218.0 L350.0,219.8 L351.0,221.5 L352.0,223.2 L353.0,225.0 L354.0,226.8 L355.0,228.7 L356.0,230.6 L357.0,232.5 L358.0,234.5 L359.0,236.5 L360.0,238.6 L361.0,240.7 L362.0,242.9 L363.0,245.0 L364.0,247.2 L365.0,249.5 L366.0,251.7 L367.0,254.0 L368.0,256.4 L369.0,258.7 L370.0,261.1 L371.0,263.5 L372.0,265.9 L373.0,268.3 L374.0,270.7 L375.0,273.2 L376.0,275.6 L377.0,278.1 L378.0,280.5 L379.0,283.0 L380.0,285.5 L381.0,287.9 L382.0,290.4 L383.0,292.9 L384.0,295.3 L385.0,297.8 L386.0,300.2 L387.0,302.7 L388.0,305.1 L389.0,307.6 L390.0,310.0 L391.0,312.4 L392.0,314.8 L393.0,317.2 L394.0,319.6 L395.0,322.0 L396.0,324.3 L397.0,326.6 L398.0,328.9 L399.0,331.2 L400.0,333.4 L401.0,335.6 L402.0,337.8 L403.0,339.9 L404.0,342.1 L405.0,344.2 L406.0,346.3 L407.0,348.4 L408.0,350.5 L409.0,352.6 L410.0,354.7 L411.0,356.7 L412.0,358.8 L413.0,360.9 L414.0,362.9 L415.0,364.9 L416.0,367.0 L417.0,369.0 L418.0,371.0 L419.0,373.0 L420.0,375.1 L423.5,382.0 L427.0,389.0 L430.5,395.9 L434.0,402.8 L437.5,409.8 L441.0,416.9 L444.4,424.0 L447.9,431.0 L451.4,437.9 L454.9,444.5 L458.4,450.9 L461.9,457.0 L465.4,462.7 L468.9,468.2 L472.4,473.2 L475.9,477.9 L479.4,482.3 L482.9,486.2 L486.4,489.9 L489.8,493.4 L493.3,496.6 L496.8,499.7 L500.3,502.8 L503.8,505.8 L507.3,508.7 L510.8,511.6 L514.3,514.3 L517.8,517.0 L521.3,519.5 L524.8,521.8 L528.3,523.9 L531.8,525.9 L535.3,527.7 L538.7,529.3 L542.2,530.9 L545.7,532.3 L549.2,533.7 L552.7,535.0 L556.2,536.2 L559.7,537.5 L563.2,538.7 L566.7,539.9 L570.2,541.1 L573.7,542.3 L577.2,543.4 L580.7,544.6 L584.1,545.6 L587.6,546.7 L591.1,547.7 L594.6,548.7 L598.1,549.6 L601.6,550.6 L605.1,551.5 L608.6,552.3 L612.1,553.2 L615.6,554.0 L619.1,554.7 L622.6,555.5 L626.1,556.2 L629.5,557.0 L633.0,557.7 L636.5,558.3 L640.0,559.0 L643.5,559.6 L647.0,560.3 L650.5,560.9 L654.0,561.5 L657.5,562.2 L661.0,562.8 L664.5,563.4 L668.0,564.1 L671.5,564.7 L674.9,565.4 L678.4,566.1 L681.9,566.9 L685.4,567.7 L688.9,568.5 L692.4,569.4 L695.9,570.2 L699.4,571.1 L702.9,572.0 L706.4,572.8 L709.9,573.7 L713.4,574.5 L716.9,575.4 L720.4,576.2 L723.8,577.1 L727.3,577.9 L730.8,578.7 L734.3,579.6 L737.8,580.4 L741.3,581.2 L744.8,582.0 L748.3,582.8 L751.8,583.6 L755.3,584.5 L758.8,585.3 L762.3,586.1 L765.8,586.9 L769.2,587.7 L772.7,588.5 L776.2,589.3 L779.7,590.1 L783.2,590.9 L786.7,591.7 L790.2,592.6 L793.7,593.4 L797.2,594.2 L800.7,595.0 L804.2,595.8 L807.7,596.6 L811.2,597.4 L814.6,598.2 L818.1,599.0 L821.6,599.8 L825.1,600.6 L828.6,601.4 L832.1,602.2 L835.6,603.0 L839.1,603.8 L842.6,604.6 L846.1,605.4 L849.6,606.2 L853.1,607.0 L856.6,607.7 L860.0,608.5 L863.5,609.3 L867.0,610.0 L870.5,610.8 L874.0,611.6 L877.5,612.3 L881.0,613.1 L884.5,613.8 L888.0,614.6 L891.5,615.3 L895.0,616.1 L898.5,616.8 L902.0,617.5 L905.5,618.3 L908.9,619.0 L912.4,619.7 L915.9,620.4 L919.4,621.1 L922.9,621.9 L926.4,622.6 L929.9,623.3 L933.4,624.0 L936.9,624.7 L940.4,625.4 L943.9,626.1 L947.4,626.8 L950.9,627.5 L954.3,628.2 L957.8,628.9 L961.3,629.6 L964.8,630.3 L968.3,631.0 L971.8,631.7 L975.3,632.4"/>
<path class="c" stroke="#ff8000" d="M183.6,471.4 L184.2,471.6 L184.9,471.8 L185.5,471.9 L186.1,472.0 L186.8,472.0 L187.4,472.0 L188.1,472.0 L188.7,471.9 L189.3,471.7 L190.0,471.3 L190.6,470.9 L191.2,470.4 L191.9,469.8 L192.5,469.3 L193.2,468.8 L193.8,468.3 L194.4,467.8 L195.1,467.4 L195.7,466.9 L196.3,466.5 L197.0,466.0 L197.6,465.6 L198.2,465.1 L198.9,464.5 L199.5,464.0 L200.2,463.4 L200.8,462.7 L201.4,462.0 L202.1,461.2 L202.7,460.4 L203.3,459.4 L204.0,458.3 L204.6,456.8 L205.2,454.9 L205.9,452.7 L206.5,450.2 L207.2,447.5 L207.8,444.6 L208.4,441.7 L209.1,438.8 L209.7,435.8 L210.3,433.0 L211.0,430.3 L211.6,427.6 L212.2,424.9 L212.9,422.2 L213.5,419.4 L214.2,416.5 L214.8,413.6 L215.4,410.7 L216.1,407.8 L216.7,404.8 L217.3,401.8 L218.0,398.7 L218.6,395.7 L219.3,392.6 L219.9,389.5 L220.5,386.4 L221.2,383.3 L221.8,380.3 L222.4,377.4 L223.1,374.4 L223.7,371.6 L224.3,368.7 L225.0,365.9 L225.6,363.0 L226.3,360.2 L226.9,357.4 L227.5,354.5 L228.2,351.7 L228.8,348.9 L229.4,346.1 L230.1,343.3 L230.7,340.6 L231.3,337.8 L232.0,335.1 L232.6,332.3 L233.3,329.6 L233.9,327.0 L234.5,324.3 L235.2,321.6 L235.8,319.0 L236.4,316.4 L237.1,313.7 L237.7,311.1 L238.4,308.5 L239.0,306.0 L239.6,303.4 L240.3,300.9 L240.9,298.3 L241.5,295.8 L242.2,293.3 L242.8,290.8 L243.4,288.3 L244.1,285.9 L244.7,283.5 L245.4,281.1 L246.0,278.7 L246.6,276.3 L247.3,274.0 L247.9,271.7 L248.5,269.4 L249.2,267.1 L249.8,264.9 L250.4,262.7 L251.1,260.5 L251.7,258.4 L252.4,256.3 L253.0,254.2 L253.6,252.1 L254.3,250.1 L254.9,248.2 L255.5,246.2 L256.2,244.3 L256.8,242.4 L257.5,240.6 L258.1,238.8 L258.7,236.9 L259.4,235.2 L260.0,233.4 L261.0,230.6 L262.0,227.8 L263.0,225.1 L264.0,222.3 L265.0,219.5 L266.0,216.7 L267.0,213.8 L268.0,210.9 L269.0,208.1 L270.0,205.2 L271.0,202.4 L272.0,199.5 L273.0,196.7 L274.0,194.0 L275.0,191.3 L276.0,188.6 L277.0,186.0 L278.0,183.5 L279.0,181.0 L280.0,178.6 L281.0,176.3 L282.0,174.1 L283.0,172.0 L284.0,170.1 L285.0,168.2 L286.0,166.4 L287.0,164.8 L288.0,163.3 L289.0,161.9 L290.0,160.6 L291.0,159.4 L292.0,158.2 L293.0,157.2 L294.0,156.3 L295.0,155.4 L296.0,154.6 L297.0,153.9 L298.0,153.3 L299.0,152.7 L300.0,152.2 L301.0,151.8 L302.0,151.4 L303.0,151.1 L304.0,150.9 L305.0,150.7 L306.0,150.6 L307.0,150.5 L308.0,150.5 L309.0,150.5 L310.0,150.6 L311.0,150.7 L312.0,150.9 L313.0,151.1 L314.0,151.3 L315.0,151.6 L316.0,152.0 L317.0,152.4 L318.0,152.8 L319.0,153.3 L320.0,153.9 L321.0,154.5 L322.0,155.1 L323.0,155.8 L324.0,156.6 L325.0,157.4 L326.0,158.3 L327.0,159.2 L328.0,160.3 L329.0,161.4 L330.0,162.6 L331.0,163.8 L332.0,165.2 L333.0,166.6 L334.0,168.1 L335.0,169.7 L336.0,171.3 L337.0,173.1 L338.0,174.9 L339.0,176.8 L340.0,178.7 L341.0,180.7 L342.0,182.7 L343.0,184.7 L344.0,186.7 L345.0,188.7 L346.0,190.7 L347.0,192.7 L348.0,194.6 L349.0,196.6 L350.0,198.6 L351.0,200.6 L352.0,202.6 L353.0,204.6 L354.0,206.7 L355.0,208.8 L356.0,210.9 L357.0,213.0 L358.0,215.2 L359.0,217.4 L360.0,219.6 L361.0,221.8 L362.0,224.1 L363.0,226.4 L364.0,228.7 L365.0,231.1 L366.0,233.5 L367.0,235.9 L368.0,238.4 L369.0,240.9 L370.0,243.4 L371.0,245.9 L372.0,248.4 L373.0,251.0 L374.0,253.6 L375.0,256.2 L376.0,258.8 L377.0,261.4 L378.0,264.0 L379.0,266.6 L380.0,269.2 L381.0,271.8 L382.0,274.4 L383.0,277.0 L384.0,279.6 L385.0,282.2 L386.0,284.8 L387.0,287.4 L388.0,290.0 L389.0,292.6 L390.0,295.2 L391.0,297.7 L392.0,300.3 L393.0,302.8 L394.0,305.4 L395.0,307.9 L396.0,310.4 L397.0,312.9 L398.0,315.4 L399.0,317.9 L400.0,320.3 L401.0,322.7 L402.0,325.1 L403.0,327.4 L404.0,329.8 L405.0,332.0 L406.0,334.2 L407.0,336.4 L408.0,338.6 L409.0,340.7 L410.0,342.9 L411.0,345.0 L412.0,347.1 L413.0,349.2 L414.0,351.3 L415.0,353.4 L416.0,355.5 L417.0,357.6 L418.0,359.7 L419.0,361.7 L420.0,363.8 L423.5,370.9 L427.0,378.0 L430.5,385.0 L434.0,392.0 L437.5,399.1 L441.0,406.4 L444.4,413.7 L447.9,421.0 L451.4,428.1 L454.9,435.0 L458.4,441.7 L461.9,448.2 L465.4,454.4 L468.9,460.3 L472.4,466.0 L475.9,471.3 L479.4,476.2 L482.9,480.8 L486.4,485.0 L489.8,488.8 L493.3,492.4 L496.8,495.7 L500.3,498.9 L503.8,502.1 L507.3,505.1 L510.8,508.1 L514.3,511.0 L517.8,513.7 L521.3,516.2 L524.8,518.6 L528.3,520.9 L531.8,522.9 L535.3,524.8 L538.7,526.5 L542.2,528.1 L545.7,529.6 L549.2,531.0 L552.7,532.3 L556.2,533.5 L559.7,534.8 L563.2,536.0 L566.7,537.1 L570.2,538.3 L573.7,539.4 L577.2,540.4 L580.7,541.5 L584.1,542.5 L587.6,543.5 L591.1,544.5 L594.6,545.4 L598.1,546.4 L601.6,547.3 L605.1,548.1 L608.6,549.0 L612.1,549.8 L615.6,550.6 L619.1,551.4 L622.6,552.1 L626.1,552.8 L629.5,553.5 L633.0,554.2 L636.5,554.9 L640.0,555.5 L643.5,556.2 L647.0,556.8 L650.5,557.4 L654.0,558.0 L657.5,558.7 L661.0,559.3 L664.5,560.0 L668.0,560.6 L671.5,561.3 L674.9,562.1 L678.4,562.8 L681.9,563.6 L685.4,564.5 L688.9,565.3 L692.4,566.2 L695.9,567.1 L699.4,568.1 L702.9,569.0 L706.4,569.9 L709.9,570.8 L713.4,571.7 L716.9,572.6 L720.4,573.5 L723.8,574.3 L727.3,575.2 L730.8,576.1 L734.3,577.0 L737.8,577.8 L741.3,578.7 L744.8,579.6 L748.3,580.4 L751.8,581.3 L755.3,582.1 L758.8,583.0 L762.3,583.8 L765.8,584.6 L769.2,585.5 L772.7,586.3 L776.2,587.1 L779.7,588.0 L783.2,588.8 L786.7,589.6 L790.2,590.4 L793.7,591.2 L797.2,592.0 L800.7,592.8 L804.2,593.6 L807.7,594.4 L811.2,595.2 L814.6,596.0 L818.1,596.8 L821.6,597.6 L825.1,598.4 L828.6,599.2 L832.1,600.0 L835.6,600.8 L839.1,601.6 L842.6,602.3 L846.1,603.1 L849.6,603.9 L853.1,604.7 L856.6,605.5 L860.0,606.2 L863.5,607.0 L867.0,607.8 L870.5,608.6 L874.0,609.3 L877.5,610.1 L881.0,610.9 L884.5,611.6 L888.0,612.4 L891.5,613.2 L895.0,613.9 L898.5,614.7 L902.0,615.5 L905.5,616.2 L908.9,617.0 L912.4,617.8 L915.9,618.5 L919.4,619.3 L922.9,620.0 L926.4,620.8 L929.9,621.5 L933.4,622.3 L936.9,623.1 L940.4,623.8 L943.9,624.6 L947.4,625.3 L950.9,626.1 L954.3,626.8 L957.8,627.6 L961.3,628.3 L964.8,629.0 L968.3,629.8 L971.8,630.5 L975.3,631.3"/>
<path class="c" stroke="#ff0808" d="M183.6,476.0 L184.2,476.3 L184.9,476.4 L185.5,476.5 L186.1,476.6 L186.8,476.6 L187.4,476.6 L188.1,476.4 L188.7,476.1 L189.3,475.7 L190.0,475.2 L190.6,474.6 L191.2,474.0 L191.9,473.3 L192.5,472.5 L193.2,471.7 L193.8,470.9 L194.4,470.1 L195.1,469.2 L195.7,468.2 L196.3,467.0 L197.0,465.7 L197.6,464.2 L198.2,462.7 L198.9,461.1 L199.5,459.4 L200.2,457.7 L200.8,455.7 L201.4,453.6 L202.1,451.3 L202.7,449.0 L203.3,446.5 L204.0,443.9 L204.6,441.3 L205.2,438.7 L205.9,436.0 L206.5,433.4 L207.2,430.8 L207.8,428.2 L208.4,425.5 L209.1,422.8 L209.7,420.0 L210.3,417.2 L211.0,414.4 L211.6,411.5 L212.2,408.6 L212.9,405.6 L213.5,402.6 L214.2,399.6 L214.8,396.5 L215.4,393.3 L216.1,390.0 L216.7,386.8 L217.3,383.5 L218.0,380.3 L218.6,377.0 L219.3,373.8 L219.9,370.6 L220.5,367.4 L221.2,364.3 L221.8,361.2 L222.4,358.0 L223.1,355.0 L223.7,351.9 L224.3,348.9 L225.0,345.9 L225.6,342.9 L226.3,340.0 L226.9,337.0 L227.5,334.0 L228.2,331.1 L228.8,328.2 L229.4,325.3 L230.1,322.5 L230.7,319.6 L231.3,316.8 L232.0,314.0 L232.6,311.3 L233.3,308.5 L233.9,305.8 L234.5,303.1 L235.2,300.5 L235.8,297.8 L236.4,295.2 L237.1,292.5 L237.7,289.9 L238.4,287.4 L239.0,284.8 L239.6,282.2 L240.3,279.7 L240.9,277.2 L241.5,274.7 L242.2,272.2 L242.8,269.7 L243.4,267.3 L244.1,264.9 L244.7,262.5 L245.4,260.1 L246.0,257.7 L246.6,255.3 L247.3,253.0 L247.9,250.7 L248.5,248.4 L249.2,246.2 L249.8,243.9 L250.4,241.7 L251.1,239.5 L251.7,237.3 L252.4,235.2 L253.0,233.0 L253.6,230.9 L254.3,228.7 L254.9,226.6 L255.5,224.5 L256.2,222.4 L256.8,220.2 L257.5,218.1 L258.1,216.0 L258.7,213.8 L259.4,211.7 L260.0,209.6 L261.0,206.2 L262.0,202.9 L263.0,199.5 L264.0,196.2 L265.0,192.9 L266.0,189.6 L267.0,186.3 L268.0,183.1 L269.0,179.9 L270.0,176.8 L271.0,173.8 L272.0,170.9 L273.0,168.1 L274.0,165.5 L275.0,163.0 L276.0,160.6 L277.0,158.4 L278.0,156.3 L279.0,154.3 L280.0,152.4 L281.0,150.6 L282.0,148.9 L283.0,147.3 L284.0,145.8 L285.0,144.4 L286.0,143.0 L287.0,141.7 L288.0,140.4 L289.0,139.2 L290.0,138.1 L291.0,137.1 L292.0,136.1 L293.0,135.2 L294.0,134.4 L295.0,133.6 L296.0,132.9 L297.0,132.3 L298.0,131.8 L299.0,131.3 L300.0,130.8 L301.0,130.5 L302.0,130.1 L303.0,129.9 L304.0,129.6 L305.0,129.5 L306.0,129.3 L307.0,129.3 L308.0,129.2 L309.0,129.2 L310.0,129.2 L311.0,129.3 L312.0,129.3 L313.0,129.5 L314.0,129.7 L315.0,129.9 L316.0,130.2 L317.0,130.5 L318.0,130.9 L319.0,131.3 L320.0,131.8 L321.0,132.4 L322.0,133.0 L323.0,133.7 L324.0,134.5 L325.0,135.4 L326.0,136.3 L327.0,137.4 L328.0,138.5 L329.0,139.7 L330.0,141.0 L331.0,142.4 L332.0,143.9 L333.0,145.4 L334.0,147.0 L335.0,148.7 L336.0,150.4 L337.0,152.1 L338.0,153.9 L339.0,155.8 L340.0,157.6 L341.0,159.5 L342.0,161.4 L343.0,163.3 L344.0,165.3 L345.0,167.3 L346.0,169.3 L347.0,171.3 L348.0,173.3 L349.0,175.3 L350.0,177.3 L351.0,179.3 L352.0,181.2 L353.0,183.2 L354.0,185.3 L355.0,187.3 L356.0,189.3 L357.0,191.4 L358.0,193.5 L359.0,195.6 L360.0,197.7 L361.0,199.9 L362.0,202.1 L363.0,204.4 L364.0,206.6 L365.0,208.9 L366.0,211.3 L367.0,213.7 L368.0,216.1 L369.0,218.6 L370.0,221.1 L371.0,223.7 L372.0,226.3 L373.0,229.0 L374.0,231.7 L375.0,234.4 L376.0,237.2 L377.0,240.0 L378.0,242.8 L379.0,245.6 L380.0,248.5 L381.0,251.4 L382.0,254.2 L383.0,257.1 L384.0,260.0 L385.0,262.9 L386.0,265.8 L387.0,268.6 L388.0,271.5 L389.0,274.4 L390.0,277.2 L391.0,280.0 L392.0,282.8 L393.0,285.6 L394.0,288.4 L395.0,291.2 L396.0,293.9 L397.0,296.6 L398.0,299.3 L399.0,301.9 L400.0,304.6 L401.0,307.2 L402.0,309.7 L403.0,312.3 L404.0,314.7 L405.0,317.2 L406.0,319.6 L407.0,322.0 L408.0,324.3 L409.0,326.7 L410.0,329.0 L411.0,331.2 L412.0,333.5 L413.0,335.7 L414.0,338.0 L415.0,340.2 L416.0,342.4 L417.0,344.6 L418.0,346.7 L419.0,348.9 L420.0,351.1 L423.5,358.6 L427.0,365.9 L430.5,373.3 L434.0,380.5 L437.5,387.8 L441.0,395.1 L444.4,402.6 L447.9,410.2 L451.4,417.7 L454.9,424.9 L458.4,431.9 L461.9,438.6 L465.4,445.1 L468.9,451.3 L472.4,457.2 L475.9,462.9 L479.4,468.2 L482.9,473.3 L486.4,478.1 L489.8,482.6 L493.3,486.9 L496.8,490.9 L500.3,494.7 L503.8,498.3 L507.3,501.6 L510.8,504.8 L514.3,507.8 L517.8,510.6 L521.3,513.3 L524.8,515.7 L528.3,518.0 L531.8,520.1 L535.3,522.0 L538.7,523.7 L542.2,525.4 L545.7,526.9 L549.2,528.3 L552.7,529.6 L556.2,530.8 L559.7,532.0 L563.2,533.2 L566.7,534.3 L570.2,535.4 L573.7,536.4 L577.2,537.4 L580.7,538.4 L584.1,539.4 L587.6,540.3 L591.1,541.3 L594.6,542.2 L598.1,543.1 L601.6,544.0 L605.1,544.8 L608.6,545.6 L612.1,546.5 L615.6,547.2 L619.1,548.0 L622.6,548.7 L626.1,549.4 L629.5,550.1 L633.0,550.7 L636.5,551.4 L640.0,552.0 L643.5,552.7 L647.0,553.3 L650.5,553.9 L654.0,554.5 L657.5,555.2 L661.0,555.8 L664.5,556.5 L668.0,557.2 L671.5,558.0 L674.9,558.7 L678.4,559.5 L681.9,560.4 L685.4,561.2 L688.9,562.2 L692.4,563.1 L695.9,564.1 L699.4,565.0 L702.9,566.0 L706.4,566.9 L709.9,567.9 L713.4,568.8 L716.9,569.8 L720.4,570.7 L723.8,571.6 L727.3,572.6 L730.8,573.5 L734.3,574.4 L737.8,575.3 L741.3,576.2 L744.8,577.1 L748.3,578.0 L751.8,578.9 L755.3,579.8 L758.8,580.6 L762.3,581.5 L765.8,582.4 L769.2,583.2 L772.7,584.1 L776.2,584.9 L779.7,585.8 L783.2,586.6 L786.7,587.4 L790.2,588.3 L793.7,589.1 L797.2,589.9 L800.7,590.7 L804.2,591.5 L807.7,592.3 L811.2,593.1 L814.6,593.9 L818.1,594.7 L821.6,595.5 L825.1,596.2 L828.6,597.0 L832.1,597.8 L835.6,598.6 L839.1,599.3 L842.6,600.1 L846.1,600.9 L849.6,601.7 L853.1,602.4 L856.6,603.2 L860.0,604.0 L863.5,604.7 L867.0,605.5 L870.5,606.3 L874.0,607.1 L877.5,607.9 L881.0,608.6 L884.5,609.4 L888.0,610.2 L891.5,611.0 L895.0,611.8 L898.5,612.6 L902.0,613.4 L905.5,614.2 L908.9,615.0 L912.4,615.7 L915.9,616.5 L919.4,617.3 L922.9,618.1 L926.4,618.9 L929.9,619.7 L933.4,620.5 L936.9,621.3 L940.4,622.1 L943.9,622.9 L947.4,623.8 L950.9,624.6 L954.3,625.4 L957.8,626.2 L961.3,627.0 L964.8,627.8 L968.3,628.6 L971.8,629.4 L975.3,630.2"/>
</g>
<text class="tk" x="163.8" y="681.6" font-size="41.5" text-anchor="end" textLength="21.0" lengthAdjust="spacingAndGlyphs">0</text>
<text class="tk" x="163.8" y="553.8" font-size="41.5" text-anchor="end" textLength="63.0" lengthAdjust="spacingAndGlyphs">200</text>
<text class="tk" x="163.8" y="426.0" font-size="41.5" text-anchor="end" textLength="63.0" lengthAdjust="spacingAndGlyphs">400</text>
<text class="tk" x="163.8" y="298.2" font-size="41.5" text-anchor="end" textLength="63.0" lengthAdjust="spacingAndGlyphs">600</text>
<text class="tk" x="163.8" y="170.4" font-size="41.5" text-anchor="end" textLength="63.0" lengthAdjust="spacingAndGlyphs">800</text>
<text class="tk" x="163.8" y="42.6" font-size="41.5" text-anchor="end" textLength="84.0" lengthAdjust="spacingAndGlyphs">1000</text>
<text class="tk" x="214.2" y="723.0" font-size="42.5" text-anchor="middle">325</text>
<text class="tk" x="323.0" y="723.0" font-size="42.5" text-anchor="middle">350</text>
<text class="tk" x="431.8" y="723.0" font-size="42.5" text-anchor="middle">375</text>
<text class="tk" x="540.6" y="723.0" font-size="42.5" text-anchor="middle">400</text>
<text class="tk" x="649.5" y="723.0" font-size="42.5" text-anchor="middle">425</text>
<text class="tk" x="758.3" y="723.0" font-size="42.5" text-anchor="middle">450</text>
<text class="tk" x="867.1" y="723.0" font-size="42.5" text-anchor="middle">475</text>
<text class="tk" x="975.9" y="723.0" font-size="42.5" text-anchor="middle">500</text>
<text class="b" font-size="42" text-anchor="middle" textLength="261" lengthAdjust="spacingAndGlyphs" transform="translate(77.4,335.3) rotate(-90)">Intensity (a.u.)</text>
<text class="b" x="423.5" y="770.3" font-size="42" textLength="311.0" lengthAdjust="spacingAndGlyphs">Wavelength (nm)</text>
<text font-size="154" style="fill:#0c0c0c" transform="translate(5.5,115) scale(1.09,1)">a</text>
<g fill="#4a4a4a">
<text x="721.5" y="89" font-size="46" class="i" style="fill:#4a4a4a">λ</text>
<text x="744.5" y="97.5" font-size="30" style="fill:#4a4a4a" textLength="30.5" lengthAdjust="spacingAndGlyphs">ex</text>
<text x="786" y="89" font-size="45" style="fill:#4a4a4a" textLength="25.5" lengthAdjust="spacingAndGlyphs">=</text>
<text x="823.5" y="89.3" font-size="46" style="fill:#4a4a4a" textLength="64" lengthAdjust="spacingAndGlyphs">298</text>
<text x="900.5" y="89.3" font-size="45" style="fill:#4a4a4a" textLength="54" lengthAdjust="spacingAndGlyphs">nm</text>
</g>
<line x1="547.8" y1="156" x2="547.8" y2="338.8" stroke="#7c7c7c" stroke-width="5.6"/>
<path d="M547.8,145.5 L553.6,163.5 L542,163.5 Z" fill="#0a0a0a" stroke="#0a0a0a" stroke-width="1" stroke-linejoin="round"/>
<text class="b" x="557.3" y="167.8" font-size="36" textLength="92.5" lengthAdjust="spacingAndGlyphs">40µM</text>
<text class="b" x="558.6" y="342.0" font-size="31" textLength="62.5" lengthAdjust="spacingAndGlyphs">0µM</text>
<text class="b" x="461.3" y="245.5" font-size="41" textLength="27.0" lengthAdjust="spacingAndGlyphs">C</text>
<text x="489" y="254.8" font-size="25" class="b i" style="fill:#333;stroke:#333" textLength="26" lengthAdjust="spacingAndGlyphs">Al</text>
<text x="515.5" y="236" font-size="17" class="b" style="fill:#444;stroke:#444" textLength="16" lengthAdjust="spacingAndGlyphs">3+</text>
</g>
<g id="panel-b">
<g class="ax">
<line x1="1153.6" y1="43.1" x2="1153.6" y2="681.1" stroke="#444" stroke-width="7"/>
<line x1="2007.5" y1="43.1" x2="2007.5" y2="681.1" stroke="#343434" stroke-width="5.6"/>
<line x1="1150.1" y1="46.1" x2="2010.3" y2="46.1" stroke="#3c3c3c" stroke-width="6"/>
<line x1="1150.1" y1="678.0" x2="2010.3" y2="678.0" stroke="#363636" stroke-width="6.2"/>
<line x1="1146.6" y1="678.0" x2="1153.6" y2="678.0" stroke="#262626" stroke-width="5.4"/>
<line x1="1137.1" y1="587.7" x2="1153.6" y2="587.7" stroke="#262626" stroke-width="5.4"/>
<line x1="1145.6" y1="497.5" x2="1153.6" y2="497.5" stroke="#262626" stroke-width="5.4"/>
<line x1="1137.1" y1="407.2" x2="1153.6" y2="407.2" stroke="#262626" stroke-width="5.4"/>
<line x1="1145.6" y1="316.9" x2="1153.6" y2="316.9" stroke="#262626" stroke-width="5.4"/>
<line x1="1137.1" y1="226.7" x2="1153.6" y2="226.7" stroke="#262626" stroke-width="5.4"/>
<line x1="1145.6" y1="136.4" x2="1153.6" y2="136.4" stroke="#262626" stroke-width="5.4"/>
<line x1="1137.1" y1="46.1" x2="1153.6" y2="46.1" stroke="#262626" stroke-width="5.4"/>
<line x1="1253.0" y1="678.0" x2="1253.0" y2="669.5" stroke="#2c2c2c" stroke-width="5.8"/>
<line x1="1352.7" y1="678.0" x2="1352.7" y2="664.5" stroke="#2c2c2c" stroke-width="5.8"/>
<line x1="1452.5" y1="678.0" x2="1452.5" y2="669.5" stroke="#2c2c2c" stroke-width="5.8"/>
<line x1="1552.2" y1="678.0" x2="1552.2" y2="664.5" stroke="#2c2c2c" stroke-width="5.8"/>
<line x1="1651.9" y1="678.0" x2="1651.9" y2="669.5" stroke="#2c2c2c" stroke-width="5.8"/>
<line x1="1751.6" y1="678.0" x2="1751.6" y2="664.5" stroke="#2c2c2c" stroke-width="5.8"/>
<line x1="1851.3" y1="678.0" x2="1851.3" y2="669.5" stroke="#2c2c2c" stroke-width="5.8"/>
<line x1="1951.1" y1="678.0" x2="1951.1" y2="664.5" stroke="#2c2c2c" stroke-width="5.8"/>
</g>
<text class="tk" x="1132.0" y="600.5" font-size="42" text-anchor="end">4</text>
<text class="tk" x="1132.0" y="420.0" font-size="42" text-anchor="end">6</text>
<text class="tk" x="1132.0" y="239.5" font-size="42" text-anchor="end">8</text>
<text class="tk" x="1132.0" y="58.9" font-size="42" text-anchor="end">10</text>
<text class="tk" x="1153.0" y="724.6" font-size="42.5" text-anchor="middle">0</text>
<text class="tk" x="1352.4" y="724.6" font-size="42.5" text-anchor="middle">10</text>
<text class="tk" x="1551.9" y="724.6" font-size="42.5" text-anchor="middle">20</text>
<text class="tk" x="1751.3" y="724.6" font-size="42.5" text-anchor="middle">30</text>
<text class="tk" x="1950.8" y="724.6" font-size="42.5" text-anchor="middle">40</text>
<text class="b" font-size="42" text-anchor="middle" textLength="355" lengthAdjust="spacingAndGlyphs" transform="translate(1092.5,360.3) rotate(-90)">Intensity (*10<tspan font-size="25" dy="-21">2</tspan><tspan dy="21"> a.u.)</tspan></text>
<text class="b" x="1478.3" y="765.5" font-size="47" textLength="31.0" lengthAdjust="spacingAndGlyphs">C</text>
<text x="1509.5" y="776" font-size="28" class="b i" style="fill:#4a4a4a" textLength="30" lengthAdjust="spacingAndGlyphs">Al</text>
<text x="1540" y="754" font-size="18" class="b" style="fill:#666" textLength="19" lengthAdjust="spacingAndGlyphs">3+</text>
<text class="b" x="1571.3" y="764.8" font-size="45" textLength="93.5" lengthAdjust="spacingAndGlyphs">(µM)</text>
<text font-size="156" style="fill:#0c0c0c" transform="translate(1029.5,139.5) scale(0.98,1)">b</text>
<circle cx="1232.1" cy="542.6" r="10.2" fill="url(#ball)"/>
<circle cx="1312.9" cy="492.0" r="10.2" fill="url(#ball)"/>
<circle cx="1392.8" cy="452.8" r="10.2" fill="url(#ball)"/>
<circle cx="1471.2" cy="395.0" r="10.2" fill="url(#ball)"/>
<circle cx="1552.0" cy="357.2" r="10.2" fill="url(#ball)"/>
<circle cx="1631.2" cy="323.8" r="10.2" fill="url(#ball)"/>
<circle cx="1711.7" cy="278.2" r="10.2" fill="url(#ball)"/>
<circle cx="1791.4" cy="250.0" r="10.2" fill="url(#ball)"/>
<circle cx="1871.2" cy="214.7" r="10.2" fill="url(#ball)"/>
<circle cx="1950.8" cy="185.0" r="10.2" fill="url(#ball)"/>
<line x1="1231.6" y1="528.8" x2="1951.2" y2="170.6" stroke="#ff0808" stroke-width="4.7"/>
<line x1="1197" y1="104.8" x2="1302" y2="104.8" stroke="#ff1010" stroke-width="5.2"/>
<text class="b" x="1310.5" y="119.8" font-size="37" textLength="168.0" lengthAdjust="spacingAndGlyphs">Fitting line</text>
<text class="b" x="1199.5" y="172.3" font-size="37" textLength="319.5" lengthAdjust="spacingAndGlyphs">y=10.997x+421.6425</text>
<text class="b" x="1200.5" y="227.3" font-size="37" textLength="143.5" lengthAdjust="spacingAndGlyphs">R<tspan font-size="21" dy="-18">2</tspan><tspan dy="18">=0.993</tspan></text>
<text class="b" x="1655.5" y="608.8" font-size="37" textLength="294" lengthAdjust="spacingAndGlyphs">LOD=0.927*10<tspan font-size="21" dy="-21">-6</tspan><tspan dy="21">M</tspan></text>
</g>
</g>
</svg>
</body></html>
